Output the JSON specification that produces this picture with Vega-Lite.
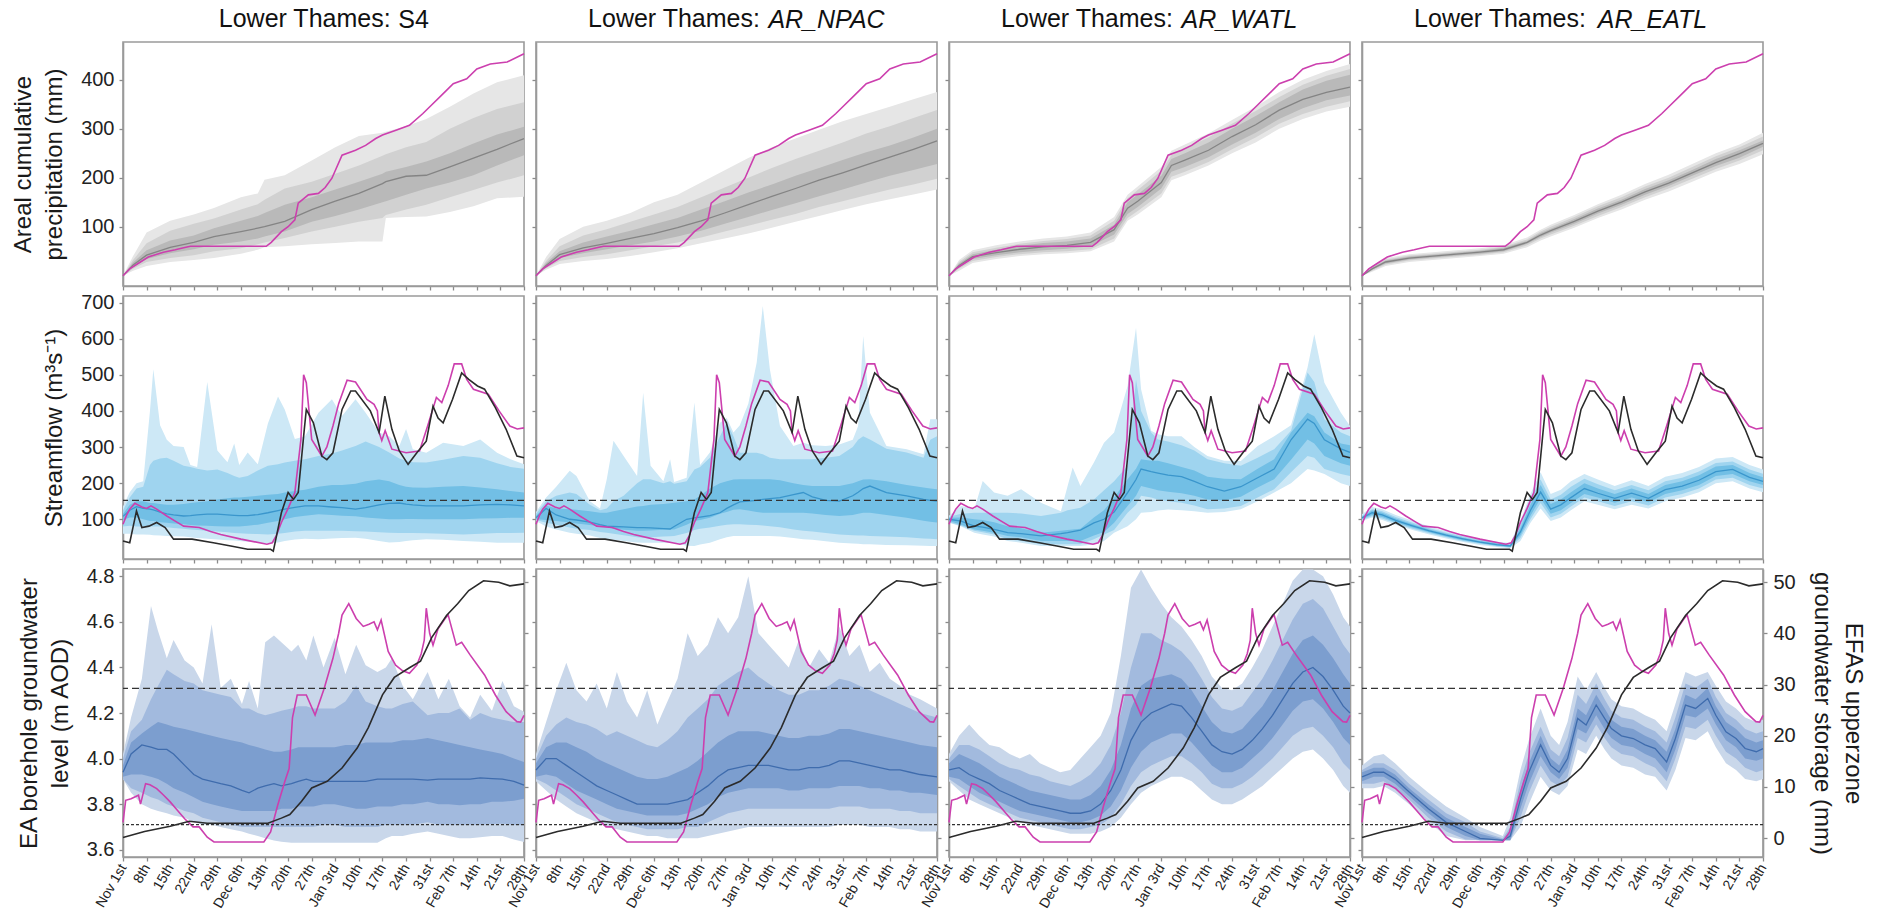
{
"$schema":"https://vega.github.io/schema/vega-lite/v6.json",
"background":"white",
"padding":{"left":10,"top":6,"right":5,"bottom":5},
"bounds":"flush",
"columns":4,
"spacing":{"row":10,"column":12},
"config":{
 "font":"Liberation Sans",
 "view":{"stroke":"#9a9a9a","strokeWidth":1.6},
 "axis":{"domainColor":"#9a9a9a","domainWidth":1.6,"tickColor":"#8a8a8a","tickWidth":1.3,"tickSize":4,"grid":false,"labelFont":"Liberation Sans","labelFontSize":20,"labelColor":"#222222","titleFont":"Liberation Sans","titleFontSize":24,"titleFontWeight":"normal","titleColor":"#1a1a1a","titleLineHeight":31,"labelOverlap":false},
 "title":{"font":"Liberation Sans","fontSize":25,"fontWeight":"normal","color":"#111111"}
},
"datasets":{
"po":[{"t":0,"v":0},{"t":2,"v":14},{"t":4.7,"v":26},{"t":7.5,"v":38},{"t":9.6,"v":43},{"t":12,"v":48},{"t":15.5,"v":53},{"t":18,"v":57},{"t":20,"v":60},{"t":30,"v":60},{"t":42.5,"v":60},{"t":44,"v":68},{"t":47,"v":90},{"t":49,"v":100},{"t":51,"v":114},{"t":52,"v":148},{"t":55,"v":165},{"t":58,"v":168},{"t":60,"v":180},{"t":62,"v":199},{"t":65,"v":246},{"t":69,"v":256},{"t":72,"v":266},{"t":75,"v":280},{"t":77,"v":287},{"t":81,"v":297},{"t":85,"v":307},{"t":89,"v":331},{"t":91.5,"v":348},{"t":94.5,"v":368},{"t":98,"v":392},{"t":102,"v":402},{"t":105,"v":422},{"t":109,"v":432},{"t":114,"v":436},{"t":119,"v":453}],
"pe":[
{"m":"S4","t":0,"a1":0,"a2":0,"a3":0,"md":0,"b3":0,"b2":0,"b1":0},
{"m":"S4","t":3,"a1":10,"a2":14,"a3":18,"md":22,"b3":27,"b2":32,"b1":40},
{"m":"S4","t":7,"a1":20,"a2":28,"a3":34,"md":42,"b3":52,"b2":66,"b1":88},
{"m":"S4","t":14,"a1":28,"a2":36,"a3":46,"md":58,"b3":72,"b2":92,"b1":112},
{"m":"S4","t":21,"a1":32,"a2":42,"a3":54,"md":68,"b3":82,"b2":106,"b1":125},
{"m":"S4","t":27,"a1":36,"a2":50,"a3":63,"md":80,"b3":97,"b2":117,"b1":138},
{"m":"S4","t":35,"a1":45,"a2":56,"a3":70,"md":90,"b3":112,"b2":135,"b1":160},
{"m":"S4","t":40,"a1":53,"a2":64,"a3":76,"md":97,"b3":122,"b2":146,"b1":168},
{"m":"S4","t":42,"a1":58,"a2":68,"a3":80,"md":100,"b3":128,"b2":155,"b1":196},
{"m":"S4","t":48,"a1":60,"a2":77,"a3":90,"md":111,"b3":145,"b2":178,"b1":205},
{"m":"S4","t":56,"a1":64,"a2":90,"a3":110,"md":135,"b3":160,"b2":192,"b1":235},
{"m":"S4","t":63,"a1":67,"a2":100,"a3":122,"md":152,"b3":176,"b2":208,"b1":262},
{"m":"S4","t":70,"a1":70,"a2":110,"a3":135,"md":168,"b3":192,"b2":225,"b1":285},
{"m":"S4","t":77,"a1":70,"a2":118,"a3":150,"md":188,"b3":208,"b2":245,"b1":292},
{"m":"S4","t":78,"a1":118,"a2":124,"a3":152,"md":192,"b3":212,"b2":248,"b1":294},
{"m":"S4","t":84,"a1":120,"a2":135,"a3":165,"md":203,"b3":222,"b2":262,"b1":305},
{"m":"S4","t":90,"a1":121,"a2":145,"a3":178,"md":205,"b3":233,"b2":273,"b1":320},
{"m":"S4","t":97,"a1":130,"a2":160,"a3":190,"md":222,"b3":250,"b2":300,"b1":345},
{"m":"S4","t":104,"a1":142,"a2":175,"a3":205,"md":240,"b3":270,"b2":322,"b1":372},
{"m":"S4","t":111,"a1":158,"a2":190,"a3":225,"md":258,"b3":288,"b2":340,"b1":395},
{"m":"S4","t":119,"a1":161,"a2":205,"a3":246,"md":280,"b3":304,"b2":354,"b1":409},
{"m":"AR_NPAC","t":0,"a1":0,"a2":0,"a3":0,"md":0,"b3":0,"b2":0,"b1":0},
{"m":"AR_NPAC","t":3,"a1":12,"a2":15,"a3":18,"md":21,"b3":26,"b2":30,"b1":38},
{"m":"AR_NPAC","t":7,"a1":24,"a2":30,"a3":36,"md":43,"b3":50,"b2":60,"b1":75},
{"m":"AR_NPAC","t":14,"a1":30,"a2":38,"a3":46,"md":57,"b3":68,"b2":82,"b1":100},
{"m":"AR_NPAC","t":21,"a1":34,"a2":44,"a3":54,"md":66,"b3":80,"b2":95,"b1":112},
{"m":"AR_NPAC","t":28,"a1":40,"a2":52,"a3":62,"md":76,"b3":92,"b2":110,"b1":128},
{"m":"AR_NPAC","t":35,"a1":48,"a2":60,"a3":70,"md":86,"b3":105,"b2":125,"b1":150},
{"m":"AR_NPAC","t":42,"a1":56,"a2":68,"a3":80,"md":98,"b3":118,"b2":140,"b1":165},
{"m":"AR_NPAC","t":49,"a1":66,"a2":78,"a3":92,"md":112,"b3":135,"b2":160,"b1":190},
{"m":"AR_NPAC","t":56,"a1":76,"a2":90,"a3":106,"md":128,"b3":152,"b2":180,"b1":215},
{"m":"AR_NPAC","t":63,"a1":86,"a2":102,"a3":120,"md":145,"b3":170,"b2":200,"b1":240},
{"m":"AR_NPAC","t":70,"a1":98,"a2":114,"a3":134,"md":162,"b3":186,"b2":220,"b1":262},
{"m":"AR_NPAC","t":77,"a1":110,"a2":126,"a3":148,"md":178,"b3":204,"b2":238,"b1":280},
{"m":"AR_NPAC","t":84,"a1":122,"a2":140,"a3":162,"md":195,"b3":220,"b2":255,"b1":298},
{"m":"AR_NPAC","t":91,"a1":134,"a2":152,"a3":176,"md":210,"b3":236,"b2":272,"b1":315},
{"m":"AR_NPAC","t":98,"a1":146,"a2":164,"a3":190,"md":226,"b3":252,"b2":290,"b1":330},
{"m":"AR_NPAC","t":105,"a1":156,"a2":176,"a3":204,"md":242,"b3":266,"b2":305,"b1":345},
{"m":"AR_NPAC","t":112,"a1":166,"a2":186,"a3":216,"md":258,"b3":282,"b2":322,"b1":360},
{"m":"AR_NPAC","t":119,"a1":176,"a2":198,"a3":228,"md":275,"b3":300,"b2":338,"b1":375},
{"m":"AR_WATL","t":0,"a1":0,"a2":0,"a3":0,"md":0,"b3":0,"b2":0,"b1":0},
{"m":"AR_WATL","t":3,"a1":10,"a2":14,"a3":17,"md":21,"b3":25,"b2":28,"b1":32},
{"m":"AR_WATL","t":7,"a1":26,"a2":30,"a3":34,"md":39,"b3":44,"b2":48,"b1":52},
{"m":"AR_WATL","t":14,"a1":34,"a2":38,"a3":42,"md":47,"b3":53,"b2":57,"b1":62},
{"m":"AR_WATL","t":21,"a1":40,"a2":44,"a3":48,"md":54,"b3":61,"b2":65,"b1":70},
{"m":"AR_WATL","t":28,"a1":44,"a2":48,"a3":52,"md":59,"b3":67,"b2":71,"b1":76},
{"m":"AR_WATL","t":35,"a1":46,"a2":50,"a3":55,"md":62,"b3":70,"b2":75,"b1":80},
{"m":"AR_WATL","t":42,"a1":50,"a2":54,"a3":60,"md":68,"b3":76,"b2":82,"b1":88},
{"m":"AR_WATL","t":49,"a1":70,"a2":76,"a3":84,"md":94,"b3":104,"b2":112,"b1":120},
{"m":"AR_WATL","t":53,"a1":112,"a2":118,"a3":126,"md":138,"b3":150,"b2":158,"b1":165},
{"m":"AR_WATL","t":56,"a1":125,"a2":132,"a3":140,"md":152,"b3":166,"b2":175,"b1":182},
{"m":"AR_WATL","t":63,"a1":160,"a2":168,"a3":178,"md":190,"b3":204,"b2":214,"b1":222},
{"m":"AR_WATL","t":66,"a1":195,"a2":202,"a3":212,"md":225,"b3":238,"b2":246,"b1":255},
{"m":"AR_WATL","t":70,"a1":205,"a2":212,"a3":222,"md":236,"b3":250,"b2":260,"b1":268},
{"m":"AR_WATL","t":77,"a1":225,"a2":232,"a3":242,"md":256,"b3":272,"b2":282,"b1":290},
{"m":"AR_WATL","t":84,"a1":250,"a2":258,"a3":268,"md":284,"b3":300,"b2":310,"b1":318},
{"m":"AR_WATL","t":91,"a1":272,"a2":282,"a3":292,"md":308,"b3":326,"b2":336,"b1":345},
{"m":"AR_WATL","t":98,"a1":300,"a2":310,"a3":320,"md":338,"b3":354,"b2":365,"b1":375},
{"m":"AR_WATL","t":105,"a1":320,"a2":330,"a3":342,"md":360,"b3":380,"b2":390,"b1":400},
{"m":"AR_WATL","t":112,"a1":335,"a2":345,"a3":358,"md":374,"b3":398,"b2":408,"b1":418},
{"m":"AR_WATL","t":119,"a1":345,"a2":356,"a3":368,"md":385,"b3":410,"b2":422,"b1":432},
{"m":"AR_EATL","t":0,"a1":0,"a2":0,"a3":0,"md":0,"b3":0,"b2":0,"b1":0},
{"m":"AR_EATL","t":3,"a1":8,"a2":10,"a3":12,"md":14,"b3":16,"b2":18,"b1":20},
{"m":"AR_EATL","t":7,"a1":20,"a2":23,"a3":25,"md":28,"b3":31,"b2":33,"b1":36},
{"m":"AR_EATL","t":14,"a1":28,"a2":31,"a3":33,"md":36,"b3":39,"b2":41,"b1":44},
{"m":"AR_EATL","t":21,"a1":32,"a2":35,"a3":37,"md":40,"b3":43,"b2":45,"b1":48},
{"m":"AR_EATL","t":28,"a1":36,"a2":39,"a3":41,"md":44,"b3":47,"b2":49,"b1":52},
{"m":"AR_EATL","t":35,"a1":40,"a2":43,"a3":45,"md":48,"b3":51,"b2":53,"b1":56},
{"m":"AR_EATL","t":42,"a1":45,"a2":48,"a3":50,"md":53,"b3":57,"b2":59,"b1":62},
{"m":"AR_EATL","t":49,"a1":58,"a2":62,"a3":65,"md":68,"b3":71,"b2":74,"b1":78},
{"m":"AR_EATL","t":53,"a1":72,"a2":76,"a3":79,"md":83,"b3":87,"b2":90,"b1":94},
{"m":"AR_EATL","t":56,"a1":80,"a2":84,"a3":88,"md":92,"b3":96,"b2":100,"b1":104},
{"m":"AR_EATL","t":63,"a1":98,"a2":102,"a3":106,"md":111,"b3":116,"b2":120,"b1":124},
{"m":"AR_EATL","t":70,"a1":118,"a2":122,"a3":127,"md":132,"b3":137,"b2":142,"b1":146},
{"m":"AR_EATL","t":77,"a1":135,"a2":140,"a3":145,"md":150,"b3":155,"b2":160,"b1":165},
{"m":"AR_EATL","t":84,"a1":155,"a2":160,"a3":165,"md":171,"b3":177,"b2":182,"b1":187},
{"m":"AR_EATL","t":91,"a1":172,"a2":178,"a3":183,"md":189,"b3":195,"b2":200,"b1":206},
{"m":"AR_EATL","t":98,"a1":192,"a2":198,"a3":204,"md":210,"b3":216,"b2":222,"b1":228},
{"m":"AR_EATL","t":105,"a1":212,"a2":218,"a3":224,"md":231,"b3":238,"b2":244,"b1":250},
{"m":"AR_EATL","t":112,"a1":228,"a2":235,"a3":241,"md":249,"b3":256,"b2":262,"b1":268},
{"m":"AR_EATL","t":119,"a1":248,"a2":256,"a3":263,"md":270,"b3":276,"b2":284,"b1":292}
],
"qm":[{"t":0,"v":86},{"t":1,"v":110},{"t":2,"v":128},{"t":3.5,"v":144},{"t":5.6,"v":134},{"t":7,"v":130},{"t":8.3,"v":137},{"t":10,"v":128},{"t":13,"v":109},{"t":15.5,"v":95},{"t":18,"v":81},{"t":22.6,"v":77},{"t":26,"v":66},{"t":29,"v":58},{"t":35,"v":45},{"t":42.7,"v":31},{"t":44.3,"v":35},{"t":45.5,"v":55},{"t":47,"v":91},{"t":49,"v":130},{"t":51,"v":174},{"t":52.8,"v":321},{"t":53.6,"v":500},{"t":54.4,"v":478},{"t":55.2,"v":400},{"t":56,"v":321},{"t":59,"v":275},{"t":60.5,"v":300},{"t":62.3,"v":358},{"t":64,"v":420},{"t":66.5,"v":485},{"t":69,"v":480},{"t":72.4,"v":432},{"t":74.5,"v":418},{"t":75.5,"v":400},{"t":76,"v":340},{"t":76.8,"v":318},{"t":77.8,"v":345},{"t":79.8,"v":294},{"t":84,"v":284},{"t":88,"v":289},{"t":90.4,"v":358},{"t":93,"v":437},{"t":94.6,"v":423},{"t":96.5,"v":470},{"t":98.3,"v":530},{"t":100.5,"v":530},{"t":102,"v":487},{"t":104,"v":460},{"t":108.4,"v":446},{"t":111.6,"v":400},{"t":114.8,"v":358},{"t":117,"v":350},{"t":119,"v":353}],
"qk":[{"t":0,"v":40},{"t":2,"v":35},{"t":4,"v":123},{"t":5.6,"v":77},{"t":7.7,"v":81},{"t":10,"v":91},{"t":12.5,"v":77},{"t":15,"v":45},{"t":20.5,"v":45},{"t":26.8,"v":35},{"t":32,"v":26},{"t":37,"v":17},{"t":43.8,"v":17},{"t":44.6,"v":12},{"t":47,"v":118},{"t":49,"v":174},{"t":50.6,"v":155},{"t":52,"v":174},{"t":53.8,"v":349},{"t":54.4,"v":404},{"t":56.5,"v":367},{"t":59,"v":275},{"t":60.5,"v":265},{"t":62.3,"v":284},{"t":65,"v":404},{"t":67.6,"v":455},{"t":69,"v":455},{"t":73.4,"v":400},{"t":76,"v":340},{"t":77.7,"v":441},{"t":79.8,"v":349},{"t":82,"v":289},{"t":84.6,"v":252},{"t":87.2,"v":284},{"t":90,"v":316},{"t":92,"v":413},{"t":93.5,"v":380},{"t":95,"v":367},{"t":97.8,"v":432},{"t":100.5,"v":505},{"t":102.6,"v":487},{"t":105.2,"v":469},{"t":107.3,"v":460},{"t":110.5,"v":409},{"t":113.7,"v":349},{"t":116.9,"v":275},{"t":119,"v":270}],
"qe":[
{"m":"S4","t":0,"a1":60,"a2":80,"a3":98,"md":108,"b3":115,"b2":125,"b1":135},
{"m":"S4","t":2,"a1":60,"a2":82,"a3":105,"md":125,"b3":140,"b2":160,"b1":175},
{"m":"S4","t":4,"a1":58,"a2":80,"a3":105,"md":135,"b3":150,"b2":185,"b1":200},
{"m":"S4","t":6,"a1":58,"a2":80,"a3":100,"md":130,"b3":150,"b2":190,"b1":205},
{"m":"S4","t":8,"a1":57,"a2":80,"a3":95,"md":128,"b3":145,"b2":250,"b1":400},
{"m":"S4","t":9,"a1":56,"a2":80,"a3":95,"md":126,"b3":145,"b2":262,"b1":515},
{"m":"S4","t":11,"a1":55,"a2":80,"a3":92,"md":120,"b3":142,"b2":268,"b1":360},
{"m":"S4","t":13,"a1":54,"a2":78,"a3":90,"md":115,"b3":140,"b2":270,"b1":320},
{"m":"S4","t":15,"a1":53,"a2":76,"a3":88,"md":112,"b3":140,"b2":262,"b1":303},
{"m":"S4","t":18,"a1":52,"a2":74,"a3":86,"md":109,"b3":142,"b2":248,"b1":300},
{"m":"S4","t":20,"a1":50,"a2":72,"a3":84,"md":110,"b3":145,"b2":245,"b1":250},
{"m":"S4","t":22,"a1":48,"a2":70,"a3":83,"md":112,"b3":147,"b2":240,"b1":245},
{"m":"S4","t":25,"a1":46,"a2":68,"a3":82,"md":114,"b3":150,"b2":235,"b1":480},
{"m":"S4","t":28,"a1":44,"a2":66,"a3":81,"md":114,"b3":155,"b2":238,"b1":290},
{"m":"S4","t":31,"a1":42,"a2":64,"a3":80,"md":112,"b3":158,"b2":228,"b1":258},
{"m":"S4","t":33,"a1":41,"a2":62,"a3":80,"md":111,"b3":160,"b2":220,"b1":310},
{"m":"S4","t":34.5,"a1":40,"a2":61,"a3":80,"md":110,"b3":160,"b2":215,"b1":250},
{"m":"S4","t":37,"a1":38,"a2":60,"a3":82,"md":110,"b3":162,"b2":220,"b1":285},
{"m":"S4","t":40,"a1":36,"a2":59,"a3":85,"md":113,"b3":165,"b2":235,"b1":252},
{"m":"S4","t":43,"a1":33,"a2":58,"a3":90,"md":118,"b3":168,"b2":248,"b1":365},
{"m":"S4","t":46,"a1":36,"a2":60,"a3":95,"md":124,"b3":170,"b2":252,"b1":440},
{"m":"S4","t":48,"a1":40,"a2":62,"a3":100,"md":128,"b3":174,"b2":257,"b1":404},
{"m":"S4","t":51,"a1":44,"a2":66,"a3":106,"md":133,"b3":178,"b2":262,"b1":322},
{"m":"S4","t":54,"a1":46,"a2":68,"a3":110,"md":137,"b3":182,"b2":266,"b1":330},
{"m":"S4","t":58,"a1":45,"a2":68,"a3":114,"md":137,"b3":190,"b2":275,"b1":395},
{"m":"S4","t":62,"a1":47,"a2":68,"a3":112,"md":134,"b3":195,"b2":282,"b1":432},
{"m":"S4","t":65,"a1":48,"a2":68,"a3":110,"md":132,"b3":195,"b2":290,"b1":386},
{"m":"S4","t":69,"a1":49,"a2":67,"a3":108,"md":128,"b3":198,"b2":303,"b1":432},
{"m":"S4","t":72,"a1":46,"a2":66,"a3":105,"md":132,"b3":205,"b2":315,"b1":395},
{"m":"S4","t":76,"a1":40,"a2":64,"a3":102,"md":140,"b3":210,"b2":300,"b1":340},
{"m":"S4","t":79,"a1":36,"a2":63,"a3":100,"md":144,"b3":205,"b2":285,"b1":330},
{"m":"S4","t":82,"a1":37,"a2":62,"a3":100,"md":145,"b3":195,"b2":268,"b1":303},
{"m":"S4","t":84,"a1":40,"a2":62,"a3":101,"md":142,"b3":190,"b2":262,"b1":350},
{"m":"S4","t":86,"a1":42,"a2":62,"a3":101,"md":140,"b3":188,"b2":258,"b1":294},
{"m":"S4","t":90,"a1":45,"a2":61,"a3":100,"md":137,"b3":187,"b2":257,"b1":284},
{"m":"S4","t":95,"a1":43,"a2":60,"a3":100,"md":137,"b3":190,"b2":265,"b1":312},
{"m":"S4","t":101,"a1":40,"a2":58,"a3":100,"md":137,"b3":192,"b2":275,"b1":303},
{"m":"S4","t":106,"a1":38,"a2":60,"a3":102,"md":140,"b3":188,"b2":270,"b1":321},
{"m":"S4","t":111,"a1":35,"a2":62,"a3":103,"md":141,"b3":183,"b2":255,"b1":284},
{"m":"S4","t":115,"a1":35,"a2":62,"a3":104,"md":140,"b3":178,"b2":245,"b1":266},
{"m":"S4","t":119,"a1":35,"a2":63,"a3":104,"md":137,"b3":174,"b2":240,"b1":252},
{"m":"AR_NPAC","t":0,"a1":95,"a2":98,"a3":100,"md":104,"b3":110,"b2":115,"b1":120},
{"m":"AR_NPAC","t":3,"a1":80,"a2":90,"a3":98,"md":130,"b3":138,"b2":150,"b1":160},
{"m":"AR_NPAC","t":6,"a1":72,"a2":85,"a3":95,"md":112,"b3":130,"b2":165,"b1":190},
{"m":"AR_NPAC","t":10,"a1":63,"a2":77,"a3":91,"md":100,"b3":128,"b2":174,"b1":234},
{"m":"AR_NPAC","t":12,"a1":60,"a2":74,"a3":88,"md":98,"b3":126,"b2":170,"b1":220},
{"m":"AR_NPAC","t":16,"a1":55,"a2":70,"a3":84,"md":92,"b3":122,"b2":140,"b1":150},
{"m":"AR_NPAC","t":19,"a1":48,"a2":65,"a3":80,"md":85,"b3":118,"b2":125,"b1":130},
{"m":"AR_NPAC","t":21,"a1":45,"a2":63,"a3":77,"md":81,"b3":118,"b2":130,"b1":211},
{"m":"AR_NPAC","t":23,"a1":43,"a2":60,"a3":74,"md":80,"b3":122,"b2":150,"b1":317},
{"m":"AR_NPAC","t":26,"a1":40,"a2":56,"a3":71,"md":79,"b3":128,"b2":165,"b1":275},
{"m":"AR_NPAC","t":30,"a1":36,"a2":50,"a3":68,"md":77,"b3":135,"b2":200,"b1":220},
{"m":"AR_NPAC","t":31.8,"a1":35,"a2":49,"a3":68,"md":77,"b3":137,"b2":211,"b1":450},
{"m":"AR_NPAC","t":34,"a1":35,"a2":50,"a3":69,"md":76,"b3":140,"b2":211,"b1":248},
{"m":"AR_NPAC","t":37.8,"a1":35,"a2":52,"a3":71,"md":74,"b3":142,"b2":200,"b1":205},
{"m":"AR_NPAC","t":39.8,"a1":35,"a2":53,"a3":72,"md":73,"b3":144,"b2":205,"b1":266},
{"m":"AR_NPAC","t":41,"a1":35,"a2":54,"a3":72,"md":80,"b3":146,"b2":198,"b1":203},
{"m":"AR_NPAC","t":44.7,"a1":27,"a2":62,"a3":85,"md":100,"b3":150,"b2":205,"b1":215},
{"m":"AR_NPAC","t":47,"a1":26,"a2":70,"a3":95,"md":104,"b3":155,"b2":238,"b1":423},
{"m":"AR_NPAC","t":48.7,"a1":30,"a2":74,"a3":98,"md":106,"b3":165,"b2":245,"b1":250},
{"m":"AR_NPAC","t":51.6,"a1":35,"a2":77,"a3":104,"md":110,"b3":185,"b2":270,"b1":285},
{"m":"AR_NPAC","t":54.6,"a1":45,"a2":82,"a3":115,"md":118,"b3":200,"b2":330,"b1":367},
{"m":"AR_NPAC","t":56.6,"a1":50,"a2":85,"a3":120,"md":130,"b3":205,"b2":367,"b1":380},
{"m":"AR_NPAC","t":58.6,"a1":54,"a2":86,"a3":126,"md":140,"b3":210,"b2":330,"b1":340},
{"m":"AR_NPAC","t":60.5,"a1":54,"a2":86,"a3":128,"md":148,"b3":211,"b2":284,"b1":360},
{"m":"AR_NPAC","t":63,"a1":54,"a2":85,"a3":124,"md":150,"b3":211,"b2":284,"b1":420},
{"m":"AR_NPAC","t":65.5,"a1":54,"a2":84,"a3":120,"md":152,"b3":211,"b2":284,"b1":534},
{"m":"AR_NPAC","t":67.3,"a1":54,"a2":83,"a3":118,"md":155,"b3":211,"b2":280,"b1":690},
{"m":"AR_NPAC","t":69.4,"a1":54,"a2":81,"a3":118,"md":157,"b3":211,"b2":270,"b1":515},
{"m":"AR_NPAC","t":72.4,"a1":52,"a2":78,"a3":118,"md":160,"b3":208,"b2":266,"b1":358},
{"m":"AR_NPAC","t":76.4,"a1":48,"a2":72,"a3":118,"md":168,"b3":200,"b2":266,"b1":303},
{"m":"AR_NPAC","t":79.3,"a1":45,"a2":68,"a3":118,"md":174,"b3":195,"b2":266,"b1":312},
{"m":"AR_NPAC","t":82,"a1":43,"a2":66,"a3":116,"md":162,"b3":192,"b2":266,"b1":305},
{"m":"AR_NPAC","t":86,"a1":39,"a2":62,"a3":112,"md":152,"b3":192,"b2":270,"b1":303},
{"m":"AR_NPAC","t":90,"a1":35,"a2":58,"a3":109,"md":150,"b3":192,"b2":275,"b1":307},
{"m":"AR_NPAC","t":94,"a1":33,"a2":56,"a3":112,"md":165,"b3":200,"b2":300,"b1":320},
{"m":"AR_NPAC","t":95.6,"a1":32,"a2":55,"a3":115,"md":175,"b3":205,"b2":320,"b1":358},
{"m":"AR_NPAC","t":97.1,"a1":31,"a2":55,"a3":118,"md":185,"b3":210,"b2":330,"b1":607},
{"m":"AR_NPAC","t":99.1,"a1":31,"a2":54,"a3":118,"md":192,"b3":211,"b2":321,"b1":395},
{"m":"AR_NPAC","t":104,"a1":29,"a2":52,"a3":112,"md":174,"b3":205,"b2":295,"b1":303},
{"m":"AR_NPAC","t":110,"a1":28,"a2":50,"a3":104,"md":165,"b3":195,"b2":285,"b1":294},
{"m":"AR_NPAC","t":115,"a1":27,"a2":47,"a3":96,"md":155,"b3":188,"b2":270,"b1":280},
{"m":"AR_NPAC","t":117,"a1":26,"a2":46,"a3":93,"md":152,"b3":185,"b2":320,"b1":377},
{"m":"AR_NPAC","t":119,"a1":26,"a2":45,"a3":91,"md":150,"b3":183,"b2":330,"b1":377},
{"m":"AR_WATL","t":0,"a1":90,"a2":92,"a3":95,"md":100,"b3":104,"b2":107,"b1":110},
{"m":"AR_WATL","t":3.6,"a1":80,"a2":82,"a3":85,"md":95,"b3":105,"b2":115,"b1":137},
{"m":"AR_WATL","t":7.5,"a1":63,"a2":68,"a3":72,"md":81,"b3":100,"b2":118,"b1":128},
{"m":"AR_WATL","t":10,"a1":58,"a2":64,"a3":68,"md":78,"b3":98,"b2":118,"b1":206},
{"m":"AR_WATL","t":13.4,"a1":52,"a2":58,"a3":63,"md":72,"b3":92,"b2":118,"b1":174},
{"m":"AR_WATL","t":17.4,"a1":40,"a2":45,"a3":54,"md":63,"b3":81,"b2":118,"b1":165},
{"m":"AR_WATL","t":21.4,"a1":35,"a2":40,"a3":50,"md":60,"b3":75,"b2":116,"b1":183},
{"m":"AR_WATL","t":27.3,"a1":26,"a2":31,"a3":40,"md":54,"b3":63,"b2":109,"b1":146},
{"m":"AR_WATL","t":33.2,"a1":26,"a2":31,"a3":40,"md":60,"b3":68,"b2":118,"b1":122},
{"m":"AR_WATL","t":35.2,"a1":26,"a2":31,"a3":40,"md":63,"b3":70,"b2":125,"b1":192},
{"m":"AR_WATL","t":36.7,"a1":26,"a2":31,"a3":40,"md":66,"b3":72,"b2":128,"b1":243},
{"m":"AR_WATL","t":39,"a1":26,"a2":31,"a3":40,"md":70,"b3":74,"b2":132,"b1":192},
{"m":"AR_WATL","t":43,"a1":30,"a2":45,"a3":55,"md":90,"b3":105,"b2":155,"b1":257},
{"m":"AR_WATL","t":46,"a1":40,"a2":58,"a3":65,"md":100,"b3":125,"b2":180,"b1":312},
{"m":"AR_WATL","t":49,"a1":63,"a2":70,"a3":90,"md":120,"b3":160,"b2":205,"b1":340},
{"m":"AR_WATL","t":53,"a1":81,"a2":118,"a3":137,"md":174,"b3":211,"b2":248,"b1":469},
{"m":"AR_WATL","t":55.5,"a1":100,"a2":140,"a3":165,"md":210,"b3":240,"b2":487,"b1":630},
{"m":"AR_WATL","t":57,"a1":118,"a2":165,"a3":192,"md":239,"b3":266,"b2":400,"b1":460},
{"m":"AR_WATL","t":60,"a1":120,"a2":160,"a3":185,"md":232,"b3":262,"b2":340,"b1":345},
{"m":"AR_WATL","t":62,"a1":124,"a2":155,"a3":180,"md":228,"b3":262,"b2":321,"b1":335},
{"m":"AR_WATL","t":65,"a1":127,"a2":150,"a3":176,"md":222,"b3":255,"b2":315,"b1":330},
{"m":"AR_WATL","t":69,"a1":125,"a2":146,"a3":172,"md":218,"b3":245,"b2":305,"b1":330},
{"m":"AR_WATL","t":72.8,"a1":122,"a2":138,"a3":165,"md":205,"b3":235,"b2":290,"b1":300},
{"m":"AR_WATL","t":76.7,"a1":118,"a2":128,"a3":155,"md":190,"b3":218,"b2":266,"b1":275},
{"m":"AR_WATL","t":81.7,"a1":120,"a2":130,"a3":152,"md":178,"b3":212,"b2":255,"b1":262},
{"m":"AR_WATL","t":86.6,"a1":128,"a2":137,"a3":162,"md":190,"b3":211,"b2":248,"b1":261},
{"m":"AR_WATL","t":91.6,"a1":150,"a2":160,"a3":188,"md":215,"b3":240,"b2":270,"b1":303},
{"m":"AR_WATL","t":96.5,"a1":174,"a2":183,"a3":211,"md":239,"b3":266,"b2":294,"b1":330},
{"m":"AR_WATL","t":101.5,"a1":200,"a2":230,"a3":265,"md":320,"b3":340,"b2":345,"b1":360},
{"m":"AR_WATL","t":106.4,"a1":239,"a2":275,"a3":321,"md":377,"b3":395,"b2":506,"b1":520},
{"m":"AR_WATL","t":108.4,"a1":235,"a2":270,"a3":310,"md":365,"b3":385,"b2":480,"b1":612},
{"m":"AR_WATL","t":111.4,"a1":225,"a2":239,"a3":275,"md":320,"b3":340,"b2":377,"b1":478},
{"m":"AR_WATL","t":116.3,"a1":200,"a2":225,"a3":255,"md":295,"b3":310,"b2":340,"b1":395},
{"m":"AR_WATL","t":119,"a1":192,"a2":220,"a3":248,"md":285,"b3":305,"b2":330,"b1":358},
{"m":"AR_EATL","t":0,"a1":95,"a2":98,"a3":101,"md":104,"b3":107,"b2":110,"b1":114},
{"m":"AR_EATL","t":3,"a1":105,"a2":108,"a3":112,"md":118,"b3":124,"b2":128,"b1":134},
{"m":"AR_EATL","t":6,"a1":98,"a2":102,"a3":106,"md":112,"b3":118,"b2":122,"b1":128},
{"m":"AR_EATL","t":10,"a1":85,"a2":89,"a3":92,"md":97,"b3":102,"b2":106,"b1":112},
{"m":"AR_EATL","t":15,"a1":70,"a2":74,"a3":77,"md":82,"b3":86,"b2":90,"b1":96},
{"m":"AR_EATL","t":20,"a1":58,"a2":61,"a3":64,"md":68,"b3":72,"b2":75,"b1":80},
{"m":"AR_EATL","t":25,"a1":47,"a2":50,"a3":52,"md":56,"b3":60,"b2":63,"b1":67},
{"m":"AR_EATL","t":30,"a1":37,"a2":40,"a3":42,"md":46,"b3":49,"b2":52,"b1":56},
{"m":"AR_EATL","t":35,"a1":29,"a2":32,"a3":34,"md":37,"b3":40,"b2":43,"b1":46},
{"m":"AR_EATL","t":40,"a1":23,"a2":25,"a3":27,"md":30,"b3":33,"b2":35,"b1":38},
{"m":"AR_EATL","t":44,"a1":20,"a2":22,"a3":24,"md":26,"b3":29,"b2":31,"b1":34},
{"m":"AR_EATL","t":47,"a1":40,"a2":48,"a3":55,"md":65,"b3":75,"b2":85,"b1":95},
{"m":"AR_EATL","t":50,"a1":90,"a2":100,"a3":110,"md":125,"b3":140,"b2":155,"b1":170},
{"m":"AR_EATL","t":53,"a1":130,"a2":145,"a3":158,"md":175,"b3":195,"b2":210,"b1":230},
{"m":"AR_EATL","t":56,"a1":95,"a2":105,"a3":115,"md":128,"b3":142,"b2":155,"b1":170},
{"m":"AR_EATL","t":59,"a1":105,"a2":115,"a3":125,"md":140,"b3":155,"b2":168,"b1":182},
{"m":"AR_EATL","t":62,"a1":125,"a2":135,"a3":145,"md":160,"b3":175,"b2":190,"b1":205},
{"m":"AR_EATL","t":66,"a1":150,"a2":160,"a3":170,"md":185,"b3":200,"b2":212,"b1":225},
{"m":"AR_EATL","t":70,"a1":140,"a2":150,"a3":160,"md":172,"b3":185,"b2":197,"b1":210},
{"m":"AR_EATL","t":75,"a1":128,"a2":137,"a3":146,"md":158,"b3":170,"b2":180,"b1":192},
{"m":"AR_EATL","t":80,"a1":140,"a2":150,"a3":160,"md":172,"b3":185,"b2":195,"b1":208},
{"m":"AR_EATL","t":85,"a1":130,"a2":138,"a3":147,"md":158,"b3":170,"b2":180,"b1":192},
{"m":"AR_EATL","t":90,"a1":150,"a2":160,"a3":170,"md":182,"b3":195,"b2":205,"b1":218},
{"m":"AR_EATL","t":95,"a1":160,"a2":170,"a3":180,"md":192,"b3":205,"b2":215,"b1":228},
{"m":"AR_EATL","t":100,"a1":175,"a2":185,"a3":195,"md":208,"b3":222,"b2":232,"b1":245},
{"m":"AR_EATL","t":105,"a1":200,"a2":210,"a3":220,"md":232,"b3":246,"b2":256,"b1":268},
{"m":"AR_EATL","t":110,"a1":205,"a2":215,"a3":225,"md":238,"b3":250,"b2":260,"b1":272},
{"m":"AR_EATL","t":115,"a1":185,"a2":195,"a3":205,"md":216,"b3":228,"b2":238,"b1":250},
{"m":"AR_EATL","t":119,"a1":175,"a2":185,"a3":195,"md":205,"b3":216,"b2":226,"b1":238}
],
"gm":[{"t":0,"v":3.72},{"t":0.8,"v":3.817},{"t":2.4,"v":3.824},{"t":4.6,"v":3.839},{"t":5.2,"v":3.8},{"t":6.7,"v":3.89},{"t":8,"v":3.885},{"t":10,"v":3.868},{"t":12,"v":3.84},{"t":14,"v":3.81},{"t":16,"v":3.775},{"t":18.3,"v":3.736},{"t":20.8,"v":3.7},{"t":22.6,"v":3.7},{"t":25,"v":3.655},{"t":27,"v":3.634},{"t":41.8,"v":3.634},{"t":43.8,"v":3.678},{"t":45.9,"v":3.795},{"t":48,"v":3.898},{"t":49.3,"v":3.956},{"t":50.3,"v":4.18},{"t":51.7,"v":4.279},{"t":54.4,"v":4.279},{"t":57,"v":4.191},{"t":59.7,"v":4.308},{"t":62.3,"v":4.44},{"t":64,"v":4.55},{"t":65,"v":4.63},{"t":67,"v":4.68},{"t":69.2,"v":4.615},{"t":71.3,"v":4.58},{"t":73,"v":4.59},{"t":74.5,"v":4.6},{"t":75.5,"v":4.565},{"t":76.6,"v":4.608},{"t":78.7,"v":4.47},{"t":80.9,"v":4.41},{"t":83,"v":4.385},{"t":85,"v":4.374},{"t":87.2,"v":4.41},{"t":88.5,"v":4.46},{"t":89.4,"v":4.52},{"t":90,"v":4.66},{"t":91,"v":4.55},{"t":92,"v":4.498},{"t":93.5,"v":4.57},{"t":95.6,"v":4.615},{"t":96.5,"v":4.63},{"t":98.9,"v":4.498},{"t":100.5,"v":4.51},{"t":103,"v":4.455},{"t":107.3,"v":4.367},{"t":110.5,"v":4.279},{"t":113.7,"v":4.206},{"t":116.9,"v":4.162},{"t":118,"v":4.16},{"t":119,"v":4.19}],
"gk":[{"t":0,"v":0.1},{"t":6.4,"v":1.3},{"t":14,"v":2.3},{"t":19.7,"v":3.3},{"t":25,"v":2.9},{"t":30.7,"v":2.9},{"t":36,"v":2.9},{"t":43,"v":2.9},{"t":47,"v":3.9},{"t":49.5,"v":4.6},{"t":53,"v":7.2},{"t":56,"v":9.8},{"t":60.6,"v":11.1},{"t":65,"v":13.7},{"t":69.5,"v":17.6},{"t":72.8,"v":21.6},{"t":77,"v":28},{"t":80.5,"v":31.4},{"t":85,"v":33.3},{"t":88.3,"v":34.6},{"t":91.6,"v":39.2},{"t":96,"v":43.5},{"t":99.3,"v":45.8},{"t":102.6,"v":48.4},{"t":107,"v":50.3},{"t":111.5,"v":50},{"t":114.8,"v":49.3},{"t":119,"v":49.7}],
"ge":[
{"m":"S4","t":0,"a1":3.91,"a2":3.91,"a3":3.92,"md":3.94,"b3":3.97,"b2":4.0,"b1":4.02},
{"m":"S4","t":2.4,"a1":3.85,"a2":3.87,"a3":3.93,"md":4.02,"b3":4.07,"b2":4.12,"b1":4.18},
{"m":"S4","t":5.6,"a1":3.8,"a2":3.85,"a3":3.93,"md":4.06,"b3":4.11,"b2":4.17,"b1":4.35},
{"m":"S4","t":8.3,"a1":3.78,"a2":3.83,"a3":3.92,"md":4.05,"b3":4.14,"b2":4.26,"b1":4.67},
{"m":"S4","t":10.4,"a1":3.77,"a2":3.82,"a3":3.91,"md":4.04,"b3":4.16,"b2":4.32,"b1":4.56},
{"m":"S4","t":13,"a1":3.76,"a2":3.8,"a3":3.89,"md":4.04,"b3":4.15,"b2":4.39,"b1":4.44},
{"m":"S4","t":15,"a1":3.75,"a2":3.79,"a3":3.87,"md":4.02,"b3":4.14,"b2":4.37,"b1":4.52},
{"m":"S4","t":18.3,"a1":3.74,"a2":3.77,"a3":3.85,"md":3.97,"b3":4.13,"b2":4.34,"b1":4.43},
{"m":"S4","t":21,"a1":3.72,"a2":3.76,"a3":3.83,"md":3.93,"b3":4.12,"b2":4.33,"b1":4.4},
{"m":"S4","t":23.6,"a1":3.71,"a2":3.74,"a3":3.81,"md":3.91,"b3":4.11,"b2":4.3,"b1":4.33},
{"m":"S4","t":26.3,"a1":3.71,"a2":3.73,"a3":3.8,"md":3.9,"b3":4.1,"b2":4.29,"b1":4.59},
{"m":"S4","t":29,"a1":3.7,"a2":3.72,"a3":3.79,"md":3.89,"b3":4.09,"b2":4.28,"b1":4.31},
{"m":"S4","t":32,"a1":3.69,"a2":3.71,"a3":3.78,"md":3.88,"b3":4.08,"b2":4.27,"b1":4.35},
{"m":"S4","t":35.3,"a1":3.68,"a2":3.7,"a3":3.77,"md":3.86,"b3":4.07,"b2":4.22,"b1":4.24},
{"m":"S4","t":37.4,"a1":3.67,"a2":3.7,"a3":3.77,"md":3.85,"b3":4.06,"b2":4.22,"b1":4.34},
{"m":"S4","t":40,"a1":3.66,"a2":3.7,"a3":3.77,"md":3.87,"b3":4.05,"b2":4.2,"b1":4.22},
{"m":"S4","t":42.2,"a1":3.65,"a2":3.7,"a3":3.77,"md":3.88,"b3":4.04,"b2":4.19,"b1":4.51},
{"m":"S4","t":44.8,"a1":3.64,"a2":3.7,"a3":3.77,"md":3.89,"b3":4.03,"b2":4.2,"b1":4.54},
{"m":"S4","t":47,"a1":3.635,"a2":3.7,"a3":3.78,"md":3.88,"b3":4.03,"b2":4.21,"b1":4.51},
{"m":"S4","t":50,"a1":3.63,"a2":3.7,"a3":3.78,"md":3.89,"b3":4.04,"b2":4.22,"b1":4.47},
{"m":"S4","t":52,"a1":3.63,"a2":3.7,"a3":3.79,"md":3.9,"b3":4.05,"b2":4.23,"b1":4.5},
{"m":"S4","t":54.4,"a1":3.63,"a2":3.7,"a3":3.79,"md":3.91,"b3":4.05,"b2":4.23,"b1":4.43},
{"m":"S4","t":56.5,"a1":3.63,"a2":3.7,"a3":3.79,"md":3.9,"b3":4.05,"b2":4.22,"b1":4.54},
{"m":"S4","t":59.5,"a1":3.63,"a2":3.71,"a3":3.8,"md":3.9,"b3":4.05,"b2":4.22,"b1":4.4},
{"m":"S4","t":62.8,"a1":3.63,"a2":3.71,"a3":3.8,"md":3.9,"b3":4.05,"b2":4.22,"b1":4.53},
{"m":"S4","t":66,"a1":3.63,"a2":3.7,"a3":3.79,"md":3.9,"b3":4.06,"b2":4.25,"b1":4.37},
{"m":"S4","t":69.2,"a1":3.63,"a2":3.7,"a3":3.78,"md":3.9,"b3":4.06,"b2":4.32,"b1":4.5},
{"m":"S4","t":72,"a1":3.63,"a2":3.7,"a3":3.78,"md":3.9,"b3":4.07,"b2":4.25,"b1":4.41},
{"m":"S4","t":75.5,"a1":3.63,"a2":3.7,"a3":3.79,"md":3.91,"b3":4.07,"b2":4.23,"b1":4.38},
{"m":"S4","t":78,"a1":3.65,"a2":3.71,"a3":3.79,"md":3.91,"b3":4.07,"b2":4.22,"b1":4.4},
{"m":"S4","t":79.8,"a1":3.66,"a2":3.71,"a3":3.79,"md":3.91,"b3":4.07,"b2":4.22,"b1":4.44},
{"m":"S4","t":83,"a1":3.66,"a2":3.71,"a3":3.8,"md":3.91,"b3":4.08,"b2":4.24,"b1":4.32},
{"m":"S4","t":86,"a1":3.67,"a2":3.71,"a3":3.8,"md":3.91,"b3":4.08,"b2":4.25,"b1":4.26},
{"m":"S4","t":90.4,"a1":3.68,"a2":3.72,"a3":3.81,"md":3.905,"b3":4.09,"b2":4.19,"b1":4.38},
{"m":"S4","t":93.6,"a1":3.67,"a2":3.71,"a3":3.8,"md":3.91,"b3":4.08,"b2":4.2,"b1":4.26},
{"m":"S4","t":96.7,"a1":3.66,"a2":3.71,"a3":3.8,"md":3.91,"b3":4.07,"b2":4.2,"b1":4.35},
{"m":"S4","t":99.9,"a1":3.65,"a2":3.71,"a3":3.795,"md":3.91,"b3":4.06,"b2":4.22,"b1":4.23},
{"m":"S4","t":103,"a1":3.65,"a2":3.71,"a3":3.8,"md":3.91,"b3":4.05,"b2":4.17,"b1":4.18},
{"m":"S4","t":106,"a1":3.655,"a2":3.71,"a3":3.8,"md":3.915,"b3":4.04,"b2":4.2,"b1":4.28},
{"m":"S4","t":109.5,"a1":3.66,"a2":3.713,"a3":3.81,"md":3.912,"b3":4.03,"b2":4.18,"b1":4.21},
{"m":"S4","t":112.6,"a1":3.66,"a2":3.714,"a3":3.81,"md":3.91,"b3":4.02,"b2":4.17,"b1":4.34},
{"m":"S4","t":116,"a1":3.645,"a2":3.71,"a3":3.815,"md":3.9,"b3":4.0,"b2":4.16,"b1":4.23},
{"m":"S4","t":119,"a1":3.634,"a2":3.707,"a3":3.824,"md":3.883,"b3":3.985,"b2":4.16,"b1":4.205},
{"m":"AR_NPAC","t":0,"a1":3.9,"a2":3.91,"a3":3.92,"md":3.95,"b3":3.98,"b2":4.0,"b1":4.02},
{"m":"AR_NPAC","t":3,"a1":3.86,"a2":3.89,"a3":3.93,"md":4.0,"b3":4.05,"b2":4.1,"b1":4.16},
{"m":"AR_NPAC","t":6,"a1":3.82,"a2":3.86,"a3":3.92,"md":4.0,"b3":4.07,"b2":4.15,"b1":4.3},
{"m":"AR_NPAC","t":9,"a1":3.79,"a2":3.83,"a3":3.89,"md":3.97,"b3":4.07,"b2":4.18,"b1":4.42},
{"m":"AR_NPAC","t":12,"a1":3.76,"a2":3.8,"a3":3.86,"md":3.94,"b3":4.05,"b2":4.16,"b1":4.3},
{"m":"AR_NPAC","t":15,"a1":3.74,"a2":3.78,"a3":3.84,"md":3.91,"b3":4.03,"b2":4.15,"b1":4.25},
{"m":"AR_NPAC","t":18,"a1":3.72,"a2":3.76,"a3":3.82,"md":3.88,"b3":4.0,"b2":4.13,"b1":4.33},
{"m":"AR_NPAC","t":21,"a1":3.7,"a2":3.74,"a3":3.8,"md":3.86,"b3":3.98,"b2":4.1,"b1":4.22},
{"m":"AR_NPAC","t":24,"a1":3.69,"a2":3.72,"a3":3.78,"md":3.84,"b3":3.96,"b2":4.12,"b1":4.38},
{"m":"AR_NPAC","t":27,"a1":3.68,"a2":3.71,"a3":3.77,"md":3.82,"b3":3.94,"b2":4.1,"b1":4.25},
{"m":"AR_NPAC","t":30,"a1":3.67,"a2":3.7,"a3":3.76,"md":3.8,"b3":3.92,"b2":4.08,"b1":4.18},
{"m":"AR_NPAC","t":33,"a1":3.66,"a2":3.69,"a3":3.75,"md":3.8,"b3":3.91,"b2":4.06,"b1":4.3},
{"m":"AR_NPAC","t":36,"a1":3.66,"a2":3.69,"a3":3.75,"md":3.8,"b3":3.91,"b2":4.05,"b1":4.15},
{"m":"AR_NPAC","t":39,"a1":3.65,"a2":3.69,"a3":3.75,"md":3.8,"b3":3.92,"b2":4.08,"b1":4.25},
{"m":"AR_NPAC","t":42,"a1":3.65,"a2":3.69,"a3":3.75,"md":3.81,"b3":3.94,"b2":4.12,"b1":4.35},
{"m":"AR_NPAC","t":45,"a1":3.65,"a2":3.7,"a3":3.76,"md":3.82,"b3":3.96,"b2":4.18,"b1":4.55},
{"m":"AR_NPAC","t":48,"a1":3.65,"a2":3.7,"a3":3.78,"md":3.85,"b3":3.99,"b2":4.22,"b1":4.45},
{"m":"AR_NPAC","t":51,"a1":3.66,"a2":3.72,"a3":3.8,"md":3.88,"b3":4.03,"b2":4.26,"b1":4.5},
{"m":"AR_NPAC","t":54,"a1":3.67,"a2":3.74,"a3":3.83,"md":3.92,"b3":4.07,"b2":4.32,"b1":4.62},
{"m":"AR_NPAC","t":57,"a1":3.68,"a2":3.76,"a3":3.85,"md":3.95,"b3":4.1,"b2":4.35,"b1":4.55},
{"m":"AR_NPAC","t":60,"a1":3.69,"a2":3.77,"a3":3.86,"md":3.96,"b3":4.12,"b2":4.38,"b1":4.62},
{"m":"AR_NPAC","t":63,"a1":3.7,"a2":3.78,"a3":3.87,"md":3.97,"b3":4.12,"b2":4.4,"b1":4.8},
{"m":"AR_NPAC","t":66,"a1":3.7,"a2":3.78,"a3":3.87,"md":3.97,"b3":4.12,"b2":4.36,"b1":4.55},
{"m":"AR_NPAC","t":69,"a1":3.7,"a2":3.78,"a3":3.87,"md":3.97,"b3":4.11,"b2":4.33,"b1":4.5},
{"m":"AR_NPAC","t":72,"a1":3.7,"a2":3.78,"a3":3.87,"md":3.96,"b3":4.1,"b2":4.3,"b1":4.45},
{"m":"AR_NPAC","t":75,"a1":3.7,"a2":3.78,"a3":3.86,"md":3.95,"b3":4.09,"b2":4.28,"b1":4.4},
{"m":"AR_NPAC","t":78,"a1":3.7,"a2":3.78,"a3":3.86,"md":3.95,"b3":4.09,"b2":4.28,"b1":4.52},
{"m":"AR_NPAC","t":81,"a1":3.7,"a2":3.78,"a3":3.87,"md":3.96,"b3":4.1,"b2":4.3,"b1":4.4},
{"m":"AR_NPAC","t":84,"a1":3.7,"a2":3.78,"a3":3.87,"md":3.96,"b3":4.1,"b2":4.3,"b1":4.48},
{"m":"AR_NPAC","t":87,"a1":3.7,"a2":3.78,"a3":3.87,"md":3.97,"b3":4.11,"b2":4.32,"b1":4.42},
{"m":"AR_NPAC","t":90,"a1":3.71,"a2":3.79,"a3":3.88,"md":3.99,"b3":4.13,"b2":4.35,"b1":4.58},
{"m":"AR_NPAC","t":93,"a1":3.71,"a2":3.79,"a3":3.88,"md":3.99,"b3":4.13,"b2":4.34,"b1":4.45},
{"m":"AR_NPAC","t":96,"a1":3.71,"a2":3.79,"a3":3.88,"md":3.98,"b3":4.12,"b2":4.32,"b1":4.5},
{"m":"AR_NPAC","t":99,"a1":3.7,"a2":3.78,"a3":3.87,"md":3.97,"b3":4.11,"b2":4.3,"b1":4.38},
{"m":"AR_NPAC","t":102,"a1":3.7,"a2":3.78,"a3":3.87,"md":3.96,"b3":4.1,"b2":4.28,"b1":4.42},
{"m":"AR_NPAC","t":105,"a1":3.7,"a2":3.78,"a3":3.86,"md":3.95,"b3":4.09,"b2":4.26,"b1":4.35},
{"m":"AR_NPAC","t":108,"a1":3.69,"a2":3.77,"a3":3.86,"md":3.95,"b3":4.08,"b2":4.24,"b1":4.32},
{"m":"AR_NPAC","t":111,"a1":3.69,"a2":3.77,"a3":3.85,"md":3.94,"b3":4.07,"b2":4.22,"b1":4.28},
{"m":"AR_NPAC","t":114,"a1":3.68,"a2":3.76,"a3":3.85,"md":3.93,"b3":4.06,"b2":4.2,"b1":4.26},
{"m":"AR_NPAC","t":119,"a1":3.68,"a2":3.76,"a3":3.84,"md":3.92,"b3":4.05,"b2":4.18,"b1":4.22},
{"m":"AR_WATL","t":0,"a1":3.9,"a2":3.91,"a3":3.92,"md":3.95,"b3":3.98,"b2":4.0,"b1":4.02},
{"m":"AR_WATL","t":3,"a1":3.86,"a2":3.88,"a3":3.91,"md":3.96,"b3":4.02,"b2":4.06,"b1":4.1},
{"m":"AR_WATL","t":6,"a1":3.82,"a2":3.85,"a3":3.88,"md":3.93,"b3":4.0,"b2":4.06,"b1":4.15},
{"m":"AR_WATL","t":9,"a1":3.8,"a2":3.82,"a3":3.85,"md":3.91,"b3":3.98,"b2":4.04,"b1":4.1},
{"m":"AR_WATL","t":12,"a1":3.78,"a2":3.8,"a3":3.83,"md":3.89,"b3":3.95,"b2":4.01,"b1":4.06},
{"m":"AR_WATL","t":15,"a1":3.76,"a2":3.78,"a3":3.81,"md":3.86,"b3":3.92,"b2":3.98,"b1":4.05},
{"m":"AR_WATL","t":18,"a1":3.74,"a2":3.76,"a3":3.79,"md":3.84,"b3":3.9,"b2":3.96,"b1":4.02},
{"m":"AR_WATL","t":21,"a1":3.72,"a2":3.74,"a3":3.77,"md":3.82,"b3":3.88,"b2":3.95,"b1":4.0},
{"m":"AR_WATL","t":24,"a1":3.71,"a2":3.73,"a3":3.76,"md":3.8,"b3":3.86,"b2":3.93,"b1":4.02},
{"m":"AR_WATL","t":27,"a1":3.7,"a2":3.72,"a3":3.75,"md":3.79,"b3":3.85,"b2":3.92,"b1":3.98},
{"m":"AR_WATL","t":30,"a1":3.69,"a2":3.71,"a3":3.74,"md":3.78,"b3":3.84,"b2":3.9,"b1":3.96},
{"m":"AR_WATL","t":33,"a1":3.68,"a2":3.7,"a3":3.73,"md":3.77,"b3":3.83,"b2":3.89,"b1":3.94},
{"m":"AR_WATL","t":36,"a1":3.67,"a2":3.69,"a3":3.72,"md":3.76,"b3":3.82,"b2":3.88,"b1":3.95},
{"m":"AR_WATL","t":39,"a1":3.67,"a2":3.69,"a3":3.72,"md":3.76,"b3":3.82,"b2":3.9,"b1":4.0},
{"m":"AR_WATL","t":42,"a1":3.67,"a2":3.7,"a3":3.73,"md":3.77,"b3":3.84,"b2":3.93,"b1":4.05},
{"m":"AR_WATL","t":45,"a1":3.68,"a2":3.71,"a3":3.75,"md":3.8,"b3":3.88,"b2":3.98,"b1":4.1},
{"m":"AR_WATL","t":48,"a1":3.7,"a2":3.74,"a3":3.79,"md":3.86,"b3":3.95,"b2":4.06,"b1":4.2},
{"m":"AR_WATL","t":51,"a1":3.74,"a2":3.8,"a3":3.86,"md":3.95,"b3":4.06,"b2":4.2,"b1":4.45},
{"m":"AR_WATL","t":54,"a1":3.8,"a2":3.88,"a3":3.96,"md":4.08,"b3":4.22,"b2":4.4,"b1":4.75},
{"m":"AR_WATL","t":57,"a1":3.85,"a2":3.94,"a3":4.03,"md":4.16,"b3":4.32,"b2":4.55,"b1":4.83},
{"m":"AR_WATL","t":60,"a1":3.88,"a2":3.97,"a3":4.07,"md":4.2,"b3":4.35,"b2":4.55,"b1":4.75},
{"m":"AR_WATL","t":63,"a1":3.9,"a2":3.99,"a3":4.09,"md":4.22,"b3":4.36,"b2":4.52,"b1":4.68},
{"m":"AR_WATL","t":66,"a1":3.92,"a2":4.01,"a3":4.11,"md":4.24,"b3":4.37,"b2":4.5,"b1":4.62},
{"m":"AR_WATL","t":69,"a1":3.92,"a2":4.01,"a3":4.11,"md":4.23,"b3":4.35,"b2":4.47,"b1":4.58},
{"m":"AR_WATL","t":72,"a1":3.9,"a2":3.98,"a3":4.07,"md":4.18,"b3":4.3,"b2":4.42,"b1":4.52},
{"m":"AR_WATL","t":75,"a1":3.86,"a2":3.94,"a3":4.02,"md":4.12,"b3":4.23,"b2":4.35,"b1":4.45},
{"m":"AR_WATL","t":78,"a1":3.82,"a2":3.89,"a3":3.97,"md":4.06,"b3":4.16,"b2":4.27,"b1":4.36},
{"m":"AR_WATL","t":81,"a1":3.8,"a2":3.87,"a3":3.94,"md":4.03,"b3":4.12,"b2":4.22,"b1":4.31},
{"m":"AR_WATL","t":84,"a1":3.8,"a2":3.87,"a3":3.94,"md":4.02,"b3":4.11,"b2":4.21,"b1":4.3},
{"m":"AR_WATL","t":87,"a1":3.82,"a2":3.89,"a3":3.96,"md":4.04,"b3":4.13,"b2":4.23,"b1":4.33},
{"m":"AR_WATL","t":90,"a1":3.85,"a2":3.92,"a3":4.0,"md":4.08,"b3":4.18,"b2":4.29,"b1":4.4},
{"m":"AR_WATL","t":93,"a1":3.88,"a2":3.96,"a3":4.04,"md":4.13,"b3":4.23,"b2":4.35,"b1":4.48},
{"m":"AR_WATL","t":96,"a1":3.92,"a2":4.0,"a3":4.09,"md":4.19,"b3":4.3,"b2":4.43,"b1":4.58},
{"m":"AR_WATL","t":99,"a1":3.96,"a2":4.05,"a3":4.15,"md":4.26,"b3":4.38,"b2":4.52,"b1":4.68},
{"m":"AR_WATL","t":102,"a1":4.0,"a2":4.1,"a3":4.21,"md":4.33,"b3":4.46,"b2":4.61,"b1":4.78},
{"m":"AR_WATL","t":105,"a1":4.03,"a2":4.13,"a3":4.25,"md":4.38,"b3":4.52,"b2":4.68,"b1":4.83},
{"m":"AR_WATL","t":108,"a1":4.04,"a2":4.14,"a3":4.26,"md":4.4,"b3":4.54,"b2":4.7,"b1":4.83},
{"m":"AR_WATL","t":111,"a1":4.0,"a2":4.1,"a3":4.22,"md":4.36,"b3":4.5,"b2":4.66,"b1":4.8},
{"m":"AR_WATL","t":114,"a1":3.95,"a2":4.05,"a3":4.16,"md":4.3,"b3":4.44,"b2":4.58,"b1":4.72},
{"m":"AR_WATL","t":117,"a1":3.88,"a2":3.98,"a3":4.09,"md":4.23,"b3":4.37,"b2":4.5,"b1":4.62},
{"m":"AR_WATL","t":119,"a1":3.85,"a2":3.95,"a3":4.06,"md":4.2,"b3":4.33,"b2":4.46,"b1":4.58},
{"m":"AR_EATL","t":0,"a1":3.87,"a2":3.89,"a3":3.9,"md":3.92,"b3":3.94,"b2":3.95,"b1":3.97},
{"m":"AR_EATL","t":3.5,"a1":3.87,"a2":3.89,"a3":3.92,"md":3.94,"b3":3.96,"b2":3.98,"b1":4.01},
{"m":"AR_EATL","t":6.4,"a1":3.88,"a2":3.9,"a3":3.92,"md":3.94,"b3":3.96,"b2":3.98,"b1":4.02},
{"m":"AR_EATL","t":9.8,"a1":3.85,"a2":3.87,"a3":3.89,"md":3.91,"b3":3.93,"b2":3.95,"b1":3.98},
{"m":"AR_EATL","t":14,"a1":3.8,"a2":3.82,"a3":3.835,"md":3.853,"b3":3.87,"b2":3.89,"b1":3.92},
{"m":"AR_EATL","t":19.7,"a1":3.72,"a2":3.74,"a3":3.76,"md":3.78,"b3":3.8,"b2":3.82,"b1":3.85},
{"m":"AR_EATL","t":25,"a1":3.66,"a2":3.68,"a3":3.7,"md":3.72,"b3":3.74,"b2":3.76,"b1":3.79},
{"m":"AR_EATL","t":30.7,"a1":3.641,"a2":3.645,"a3":3.66,"md":3.68,"b3":3.7,"b2":3.72,"b1":3.74},
{"m":"AR_EATL","t":35,"a1":3.641,"a2":3.641,"a3":3.641,"md":3.65,"b3":3.67,"b2":3.68,"b1":3.7},
{"m":"AR_EATL","t":41.8,"a1":3.641,"a2":3.641,"a3":3.641,"md":3.641,"b3":3.645,"b2":3.65,"b1":3.66},
{"m":"AR_EATL","t":44,"a1":3.641,"a2":3.641,"a3":3.641,"md":3.66,"b3":3.68,"b2":3.7,"b1":3.74},
{"m":"AR_EATL","t":47,"a1":3.7,"a2":3.74,"a3":3.78,"md":3.82,"b3":3.86,"b2":3.9,"b1":3.95},
{"m":"AR_EATL","t":49.5,"a1":3.8,"a2":3.85,"a3":3.89,"md":3.94,"b3":3.98,"b2":4.02,"b1":4.08},
{"m":"AR_EATL","t":53,"a1":3.92,"a2":3.97,"a3":4.01,"md":4.06,"b3":4.1,"b2":4.14,"b1":4.22},
{"m":"AR_EATL","t":56,"a1":3.86,"a2":3.9,"a3":3.94,"md":3.97,"b3":4.0,"b2":4.04,"b1":4.1},
{"m":"AR_EATL","t":58.5,"a1":3.84,"a2":3.88,"a3":3.91,"md":3.94,"b3":3.97,"b2":4.01,"b1":4.06},
{"m":"AR_EATL","t":61,"a1":3.88,"a2":3.92,"a3":3.96,"md":4.0,"b3":4.04,"b2":4.09,"b1":4.16},
{"m":"AR_EATL","t":64,"a1":4.04,"a2":4.09,"a3":4.13,"md":4.176,"b3":4.22,"b2":4.28,"b1":4.36},
{"m":"AR_EATL","t":66.5,"a1":4.02,"a2":4.07,"a3":4.11,"md":4.147,"b3":4.19,"b2":4.24,"b1":4.3},
{"m":"AR_EATL","t":69.5,"a1":4.1,"a2":4.15,"a3":4.19,"md":4.235,"b3":4.28,"b2":4.33,"b1":4.38},
{"m":"AR_EATL","t":72,"a1":4.04,"a2":4.09,"a3":4.13,"md":4.176,"b3":4.22,"b2":4.26,"b1":4.31},
{"m":"AR_EATL","t":74,"a1":4.0,"a2":4.05,"a3":4.09,"md":4.132,"b3":4.17,"b2":4.21,"b1":4.26},
{"m":"AR_EATL","t":77,"a1":3.97,"a2":4.02,"a3":4.06,"md":4.1,"b3":4.14,"b2":4.18,"b1":4.23},
{"m":"AR_EATL","t":80.5,"a1":3.96,"a2":4.01,"a3":4.05,"md":4.088,"b3":4.13,"b2":4.17,"b1":4.22},
{"m":"AR_EATL","t":84,"a1":3.93,"a2":3.98,"a3":4.02,"md":4.06,"b3":4.1,"b2":4.14,"b1":4.19},
{"m":"AR_EATL","t":87,"a1":3.92,"a2":3.96,"a3":4.0,"md":4.044,"b3":4.08,"b2":4.12,"b1":4.17},
{"m":"AR_EATL","t":90.4,"a1":3.86,"a2":3.9,"a3":3.94,"md":3.985,"b3":4.03,"b2":4.07,"b1":4.12},
{"m":"AR_EATL","t":93,"a1":3.95,"a2":4.0,"a3":4.04,"md":4.088,"b3":4.13,"b2":4.18,"b1":4.24},
{"m":"AR_EATL","t":96,"a1":4.09,"a2":4.14,"a3":4.19,"md":4.235,"b3":4.28,"b2":4.33,"b1":4.38},
{"m":"AR_EATL","t":99,"a1":4.08,"a2":4.13,"a3":4.18,"md":4.22,"b3":4.26,"b2":4.31,"b1":4.36},
{"m":"AR_EATL","t":102.6,"a1":4.12,"a2":4.17,"a3":4.22,"md":4.264,"b3":4.31,"b2":4.35,"b1":4.38},
{"m":"AR_EATL","t":105,"a1":4.05,"a2":4.1,"a3":4.15,"md":4.19,"b3":4.23,"b2":4.27,"b1":4.32},
{"m":"AR_EATL","t":108,"a1":3.98,"a2":4.03,"a3":4.08,"md":4.117,"b3":4.16,"b2":4.2,"b1":4.25},
{"m":"AR_EATL","t":111,"a1":3.95,"a2":4.0,"a3":4.05,"md":4.088,"b3":4.13,"b2":4.17,"b1":4.22},
{"m":"AR_EATL","t":113.7,"a1":3.91,"a2":3.96,"a3":4.0,"md":4.044,"b3":4.09,"b2":4.13,"b1":4.18},
{"m":"AR_EATL","t":117,"a1":3.9,"a2":3.94,"a3":3.99,"md":4.03,"b3":4.07,"b2":4.11,"b1":4.16},
{"m":"AR_EATL","t":119,"a1":3.91,"a2":3.95,"a3":4.0,"md":4.044,"b3":4.08,"b2":4.12,"b1":4.17}
]
},
"concat":[
{"width":401,"height":244,"title":{"text":"Lower Thames:","anchor":"middle","frame":"group","dx":-18.8,"offset":-25},"resolve":{"axis":{"x":"independent"}},
 "layer":[
  {"data":{"name":"pe"},"transform":[{"filter":"datum.m==='S4'"}],
   "encoding":{"x":{"field":"t","type":"quantitative","scale":{"domain":[0,119],"nice":false,"zero":false},"axis":{"orient":"bottom","values":[0,7,14,21,28,35,42,49,56,63,70,77,84,91,98,105,112,119],"tickCount":40,"labels":false,"title":null,"tickSize":4}}},
   "layer":[
    {"mark":{"type":"area","color":"#e6e6e6"},"encoding":{"y":{"field":"a1","type":"quantitative","scale":{"domain":[-21,477],"nice":false,"zero":false},"axis":{"values":[100,200,300,400],"title":["Areal cumulative","precipitation (mm)"],"titlePadding":14,"labelPadding":5,"tickSize":4}},"y2":{"field":"b1"}}},
    {"mark":{"type":"area","color":"#d1d1d1"},"encoding":{"y":{"field":"a2","type":"quantitative","scale":{"domain":[-21,477],"nice":false,"zero":false}},"y2":{"field":"b2"}}},
    {"mark":{"type":"area","color":"#b9b9b9"},"encoding":{"y":{"field":"a3","type":"quantitative","scale":{"domain":[-21,477],"nice":false,"zero":false}},"y2":{"field":"b3"}}},
    {"mark":{"type":"line","color":"#848484","strokeWidth":1.3},"encoding":{"y":{"field":"md","type":"quantitative","scale":{"domain":[-21,477],"nice":false,"zero":false}}}}
   ]},
  {"data":{"name":"po"},"mark":{"type":"line","color":"#cc3fae","strokeWidth":1.6},
   "encoding":{"x":{"field":"t","type":"quantitative","scale":{"domain":[0,119],"nice":false,"zero":false},"axis":{"orient":"top","domain":false,"ticks":false,"labels":false,"grid":false,"title":"S4","titleFontSize":25,"titleFontWeight":"normal","titleFontStyle":"normal","titleColor":"#111111","titlePadding":10,"titleX":290,"titleAlign":"center"}},"y":{"field":"v","type":"quantitative","scale":{"domain":[-21,477],"nice":false,"zero":false}}}}
 ]},
{"width":401,"height":244,"title":{"text":"Lower Thames:","anchor":"middle","frame":"group","dx":-62.5,"offset":-25},"resolve":{"axis":{"x":"independent"}},
 "layer":[
  {"data":{"name":"pe"},"transform":[{"filter":"datum.m==='AR_NPAC'"}],
   "encoding":{"x":{"field":"t","type":"quantitative","scale":{"domain":[0,119],"nice":false,"zero":false},"axis":{"orient":"bottom","values":[0,7,14,21,28,35,42,49,56,63,70,77,84,91,98,105,112,119],"tickCount":40,"labels":false,"title":null,"tickSize":4}}},
   "layer":[
    {"mark":{"type":"area","color":"#e6e6e6"},"encoding":{"y":{"field":"a1","type":"quantitative","scale":{"domain":[-21,477],"nice":false,"zero":false},"axis":{"values":[100,200,300,400],"labels":false,"title":null,"tickSize":4}},"y2":{"field":"b1"}}},
    {"mark":{"type":"area","color":"#d1d1d1"},"encoding":{"y":{"field":"a2","type":"quantitative","scale":{"domain":[-21,477],"nice":false,"zero":false}},"y2":{"field":"b2"}}},
    {"mark":{"type":"area","color":"#b9b9b9"},"encoding":{"y":{"field":"a3","type":"quantitative","scale":{"domain":[-21,477],"nice":false,"zero":false}},"y2":{"field":"b3"}}},
    {"mark":{"type":"line","color":"#848484","strokeWidth":1.3},"encoding":{"y":{"field":"md","type":"quantitative","scale":{"domain":[-21,477],"nice":false,"zero":false}}}}
   ]},
  {"data":{"name":"po"},"mark":{"type":"line","color":"#cc3fae","strokeWidth":1.6},
   "encoding":{"x":{"field":"t","type":"quantitative","scale":{"domain":[0,119],"nice":false,"zero":false},"axis":{"orient":"top","domain":false,"ticks":false,"labels":false,"grid":false,"title":"AR_NPAC","titleFontSize":25,"titleFontWeight":"normal","titleFontStyle":"italic","titleColor":"#111111","titlePadding":10,"titleX":290,"titleAlign":"center"}},"y":{"field":"v","type":"quantitative","scale":{"domain":[-21,477],"nice":false,"zero":false}}}}
 ]},
{"width":401,"height":244,"title":{"text":"Lower Thames:","anchor":"middle","frame":"group","dx":-62.5,"offset":-25},"resolve":{"axis":{"x":"independent"}},
 "layer":[
  {"data":{"name":"pe"},"transform":[{"filter":"datum.m==='AR_WATL'"}],
   "encoding":{"x":{"field":"t","type":"quantitative","scale":{"domain":[0,119],"nice":false,"zero":false},"axis":{"orient":"bottom","values":[0,7,14,21,28,35,42,49,56,63,70,77,84,91,98,105,112,119],"tickCount":40,"labels":false,"title":null,"tickSize":4}}},
   "layer":[
    {"mark":{"type":"area","color":"#e6e6e6"},"encoding":{"y":{"field":"a1","type":"quantitative","scale":{"domain":[-21,477],"nice":false,"zero":false},"axis":{"values":[100,200,300,400],"labels":false,"title":null,"tickSize":4}},"y2":{"field":"b1"}}},
    {"mark":{"type":"area","color":"#d1d1d1"},"encoding":{"y":{"field":"a2","type":"quantitative","scale":{"domain":[-21,477],"nice":false,"zero":false}},"y2":{"field":"b2"}}},
    {"mark":{"type":"area","color":"#b9b9b9"},"encoding":{"y":{"field":"a3","type":"quantitative","scale":{"domain":[-21,477],"nice":false,"zero":false}},"y2":{"field":"b3"}}},
    {"mark":{"type":"line","color":"#848484","strokeWidth":1.3},"encoding":{"y":{"field":"md","type":"quantitative","scale":{"domain":[-21,477],"nice":false,"zero":false}}}}
   ]},
  {"data":{"name":"po"},"mark":{"type":"line","color":"#cc3fae","strokeWidth":1.6},
   "encoding":{"x":{"field":"t","type":"quantitative","scale":{"domain":[0,119],"nice":false,"zero":false},"axis":{"orient":"top","domain":false,"ticks":false,"labels":false,"grid":false,"title":"AR_WATL","titleFontSize":25,"titleFontWeight":"normal","titleFontStyle":"italic","titleColor":"#111111","titlePadding":10,"titleX":290,"titleAlign":"center"}},"y":{"field":"v","type":"quantitative","scale":{"domain":[-21,477],"nice":false,"zero":false}}}}
 ]},
{"width":401,"height":244,"title":{"text":"Lower Thames:","anchor":"middle","frame":"group","dx":-62.5,"offset":-25},"resolve":{"axis":{"x":"independent"}},
 "layer":[
  {"data":{"name":"pe"},"transform":[{"filter":"datum.m==='AR_EATL'"}],
   "encoding":{"x":{"field":"t","type":"quantitative","scale":{"domain":[0,119],"nice":false,"zero":false},"axis":{"orient":"bottom","values":[0,7,14,21,28,35,42,49,56,63,70,77,84,91,98,105,112,119],"tickCount":40,"labels":false,"title":null,"tickSize":4}}},
   "layer":[
    {"mark":{"type":"area","color":"#e6e6e6"},"encoding":{"y":{"field":"a1","type":"quantitative","scale":{"domain":[-21,477],"nice":false,"zero":false},"axis":{"values":[100,200,300,400],"labels":false,"title":null,"tickSize":4}},"y2":{"field":"b1"}}},
    {"mark":{"type":"area","color":"#d1d1d1"},"encoding":{"y":{"field":"a2","type":"quantitative","scale":{"domain":[-21,477],"nice":false,"zero":false}},"y2":{"field":"b2"}}},
    {"mark":{"type":"area","color":"#b9b9b9"},"encoding":{"y":{"field":"a3","type":"quantitative","scale":{"domain":[-21,477],"nice":false,"zero":false}},"y2":{"field":"b3"}}},
    {"mark":{"type":"line","color":"#848484","strokeWidth":1.3},"encoding":{"y":{"field":"md","type":"quantitative","scale":{"domain":[-21,477],"nice":false,"zero":false}}}}
   ]},
  {"data":{"name":"po"},"mark":{"type":"line","color":"#cc3fae","strokeWidth":1.6},
   "encoding":{"x":{"field":"t","type":"quantitative","scale":{"domain":[0,119],"nice":false,"zero":false},"axis":{"orient":"top","domain":false,"ticks":false,"labels":false,"grid":false,"title":"AR_EATL","titleFontSize":25,"titleFontWeight":"normal","titleFontStyle":"italic","titleColor":"#111111","titlePadding":10,"titleX":290,"titleAlign":"center"}},"y":{"field":"v","type":"quantitative","scale":{"domain":[-21,477],"nice":false,"zero":false}}}}
 ]},
{"width":401,"height":263,
 "layer":[
  {"data":{"name":"qe"},"transform":[{"filter":"datum.m==='S4'"}],
   "encoding":{"x":{"field":"t","type":"quantitative","scale":{"domain":[0,119],"nice":false,"zero":false},"axis":{"orient":"bottom","values":[0,7,14,21,28,35,42,49,56,63,70,77,84,91,98,105,112,119],"tickCount":40,"labels":false,"title":null,"tickSize":4}}},
   "layer":[
    {"mark":{"type":"area","color":"#cde8f6"},"encoding":{"y":{"field":"a1","type":"quantitative","scale":{"domain":[-10,718],"nice":false,"zero":false},"axis":{"values":[100,200,300,400,500,600,700],"tickCount":20,"title":"Streamflow (m³s⁻¹)","titlePadding":14,"labelPadding":5,"tickSize":4}},"y2":{"field":"b1"}}},
    {"mark":{"type":"area","color":"#9fd4ef"},"encoding":{"y":{"field":"a2","type":"quantitative","scale":{"domain":[-10,718],"nice":false,"zero":false}},"y2":{"field":"b2"}}},
    {"mark":{"type":"area","color":"#72bfe5"},"encoding":{"y":{"field":"a3","type":"quantitative","scale":{"domain":[-10,718],"nice":false,"zero":false}},"y2":{"field":"b3"}}},
    {"mark":{"type":"line","color":"#3a96cc","strokeWidth":1.3},"encoding":{"y":{"field":"md","type":"quantitative","scale":{"domain":[-10,718],"nice":false,"zero":false}}}}
   ]},
  {"data":{"name":"qm"},"mark":{"type":"line","color":"#cc3fae","strokeWidth":1.6},"encoding":{"x":{"field":"t","type":"quantitative","scale":{"domain":[0,119],"nice":false,"zero":false}},"y":{"field":"v","type":"quantitative","scale":{"domain":[-10,718],"nice":false,"zero":false}}}},
  {"data":{"name":"qk"},"mark":{"type":"line","color":"#2b2b2b","strokeWidth":1.6},"encoding":{"x":{"field":"t","type":"quantitative","scale":{"domain":[0,119],"nice":false,"zero":false}},"y":{"field":"v","type":"quantitative","scale":{"domain":[-10,718],"nice":false,"zero":false}}}},
  {"data":{"values":[{}]},"mark":{"type":"rule","color":"#333333","strokeWidth":1.3,"strokeDash":[7,4]},"encoding":{"y":{"datum":152.5,"type":"quantitative","scale":{"domain":[-10,718],"nice":false,"zero":false}}}}
 ]},
{"width":401,"height":263,
 "layer":[
  {"data":{"name":"qe"},"transform":[{"filter":"datum.m==='AR_NPAC'"}],
   "encoding":{"x":{"field":"t","type":"quantitative","scale":{"domain":[0,119],"nice":false,"zero":false},"axis":{"orient":"bottom","values":[0,7,14,21,28,35,42,49,56,63,70,77,84,91,98,105,112,119],"tickCount":40,"labels":false,"title":null,"tickSize":4}}},
   "layer":[
    {"mark":{"type":"area","color":"#cde8f6"},"encoding":{"y":{"field":"a1","type":"quantitative","scale":{"domain":[-10,718],"nice":false,"zero":false},"axis":{"values":[100,200,300,400,500,600,700],"tickCount":20,"labels":false,"title":null,"tickSize":4}},"y2":{"field":"b1"}}},
    {"mark":{"type":"area","color":"#9fd4ef"},"encoding":{"y":{"field":"a2","type":"quantitative","scale":{"domain":[-10,718],"nice":false,"zero":false}},"y2":{"field":"b2"}}},
    {"mark":{"type":"area","color":"#72bfe5"},"encoding":{"y":{"field":"a3","type":"quantitative","scale":{"domain":[-10,718],"nice":false,"zero":false}},"y2":{"field":"b3"}}},
    {"mark":{"type":"line","color":"#3a96cc","strokeWidth":1.3},"encoding":{"y":{"field":"md","type":"quantitative","scale":{"domain":[-10,718],"nice":false,"zero":false}}}}
   ]},
  {"data":{"name":"qm"},"mark":{"type":"line","color":"#cc3fae","strokeWidth":1.6},"encoding":{"x":{"field":"t","type":"quantitative","scale":{"domain":[0,119],"nice":false,"zero":false}},"y":{"field":"v","type":"quantitative","scale":{"domain":[-10,718],"nice":false,"zero":false}}}},
  {"data":{"name":"qk"},"mark":{"type":"line","color":"#2b2b2b","strokeWidth":1.6},"encoding":{"x":{"field":"t","type":"quantitative","scale":{"domain":[0,119],"nice":false,"zero":false}},"y":{"field":"v","type":"quantitative","scale":{"domain":[-10,718],"nice":false,"zero":false}}}},
  {"data":{"values":[{}]},"mark":{"type":"rule","color":"#333333","strokeWidth":1.3,"strokeDash":[7,4]},"encoding":{"y":{"datum":152.5,"type":"quantitative","scale":{"domain":[-10,718],"nice":false,"zero":false}}}}
 ]},
{"width":401,"height":263,
 "layer":[
  {"data":{"name":"qe"},"transform":[{"filter":"datum.m==='AR_WATL'"}],
   "encoding":{"x":{"field":"t","type":"quantitative","scale":{"domain":[0,119],"nice":false,"zero":false},"axis":{"orient":"bottom","values":[0,7,14,21,28,35,42,49,56,63,70,77,84,91,98,105,112,119],"tickCount":40,"labels":false,"title":null,"tickSize":4}}},
   "layer":[
    {"mark":{"type":"area","color":"#cde8f6"},"encoding":{"y":{"field":"a1","type":"quantitative","scale":{"domain":[-10,718],"nice":false,"zero":false},"axis":{"values":[100,200,300,400,500,600,700],"tickCount":20,"labels":false,"title":null,"tickSize":4}},"y2":{"field":"b1"}}},
    {"mark":{"type":"area","color":"#9fd4ef"},"encoding":{"y":{"field":"a2","type":"quantitative","scale":{"domain":[-10,718],"nice":false,"zero":false}},"y2":{"field":"b2"}}},
    {"mark":{"type":"area","color":"#72bfe5"},"encoding":{"y":{"field":"a3","type":"quantitative","scale":{"domain":[-10,718],"nice":false,"zero":false}},"y2":{"field":"b3"}}},
    {"mark":{"type":"line","color":"#3a96cc","strokeWidth":1.3},"encoding":{"y":{"field":"md","type":"quantitative","scale":{"domain":[-10,718],"nice":false,"zero":false}}}}
   ]},
  {"data":{"name":"qm"},"mark":{"type":"line","color":"#cc3fae","strokeWidth":1.6},"encoding":{"x":{"field":"t","type":"quantitative","scale":{"domain":[0,119],"nice":false,"zero":false}},"y":{"field":"v","type":"quantitative","scale":{"domain":[-10,718],"nice":false,"zero":false}}}},
  {"data":{"name":"qk"},"mark":{"type":"line","color":"#2b2b2b","strokeWidth":1.6},"encoding":{"x":{"field":"t","type":"quantitative","scale":{"domain":[0,119],"nice":false,"zero":false}},"y":{"field":"v","type":"quantitative","scale":{"domain":[-10,718],"nice":false,"zero":false}}}},
  {"data":{"values":[{}]},"mark":{"type":"rule","color":"#333333","strokeWidth":1.3,"strokeDash":[7,4]},"encoding":{"y":{"datum":152.5,"type":"quantitative","scale":{"domain":[-10,718],"nice":false,"zero":false}}}}
 ]},
{"width":401,"height":263,
 "layer":[
  {"data":{"name":"qe"},"transform":[{"filter":"datum.m==='AR_EATL'"}],
   "encoding":{"x":{"field":"t","type":"quantitative","scale":{"domain":[0,119],"nice":false,"zero":false},"axis":{"orient":"bottom","values":[0,7,14,21,28,35,42,49,56,63,70,77,84,91,98,105,112,119],"tickCount":40,"labels":false,"title":null,"tickSize":4}}},
   "layer":[
    {"mark":{"type":"area","color":"#cde8f6"},"encoding":{"y":{"field":"a1","type":"quantitative","scale":{"domain":[-10,718],"nice":false,"zero":false},"axis":{"values":[100,200,300,400,500,600,700],"tickCount":20,"labels":false,"title":null,"tickSize":4}},"y2":{"field":"b1"}}},
    {"mark":{"type":"area","color":"#9fd4ef"},"encoding":{"y":{"field":"a2","type":"quantitative","scale":{"domain":[-10,718],"nice":false,"zero":false}},"y2":{"field":"b2"}}},
    {"mark":{"type":"area","color":"#72bfe5"},"encoding":{"y":{"field":"a3","type":"quantitative","scale":{"domain":[-10,718],"nice":false,"zero":false}},"y2":{"field":"b3"}}},
    {"mark":{"type":"line","color":"#3a96cc","strokeWidth":1.3},"encoding":{"y":{"field":"md","type":"quantitative","scale":{"domain":[-10,718],"nice":false,"zero":false}}}}
   ]},
  {"data":{"name":"qm"},"mark":{"type":"line","color":"#cc3fae","strokeWidth":1.6},"encoding":{"x":{"field":"t","type":"quantitative","scale":{"domain":[0,119],"nice":false,"zero":false}},"y":{"field":"v","type":"quantitative","scale":{"domain":[-10,718],"nice":false,"zero":false}}}},
  {"data":{"name":"qk"},"mark":{"type":"line","color":"#2b2b2b","strokeWidth":1.6},"encoding":{"x":{"field":"t","type":"quantitative","scale":{"domain":[0,119],"nice":false,"zero":false}},"y":{"field":"v","type":"quantitative","scale":{"domain":[-10,718],"nice":false,"zero":false}}}},
  {"data":{"values":[{}]},"mark":{"type":"rule","color":"#333333","strokeWidth":1.3,"strokeDash":[7,4]},"encoding":{"y":{"datum":152.5,"type":"quantitative","scale":{"domain":[-10,718],"nice":false,"zero":false}}}}
 ]},
{"width":401,"height":288,"resolve":{"scale":{"y":"independent"}},
 "layer":[
  {"layer":[
    {"data":{"name":"ge"},"transform":[{"filter":"datum.m==='S4'"}],
     "encoding":{"x":{"field":"t","type":"quantitative","scale":{"domain":[0,119],"nice":false,"zero":false},"axis":{"orient":"bottom","values":[0,7,14,21,28,35,42,49,56,63,70,77,84,91,98,105,112,119],"tickCount":40,"title":null,"tickSize":4,"labelAngle":-60,"labelAlign":"right","labelBaseline":"middle","labelFontSize":14,"labelPadding":4,"labelFlush":false,"labelOverlap":false,"labelBound":false,"labelExpr":"['Nov 1st','8th','15th','22nd','29th','Dec 6th','13th','20th','27th','Jan 3rd','10th','17th','24th','31st','Feb 7th','14th','21st','28th'][round(datum.value/7)]"}}},
     "layer":[
      {"mark":{"type":"area","color":"#c9d7ea","clip":true},"encoding":{"y":{"field":"a1","type":"quantitative","scale":{"domain":[3.568,4.832],"nice":false,"zero":false},"axis":{"values":[3.6,3.8,4.0,4.2,4.4,4.6,4.8],"tickCount":20,"format":".1f","title":["EA borehole groundwater","level (m AOD)"],"titlePadding":14,"labelPadding":5,"tickSize":4}},"y2":{"field":"b1"}}},
      {"mark":{"type":"area","color":"#a2bade","clip":true},"encoding":{"y":{"field":"a2","type":"quantitative","scale":{"domain":[3.568,4.832],"nice":false,"zero":false}},"y2":{"field":"b2"}}},
      {"mark":{"type":"area","color":"#7c9ecf","clip":true},"encoding":{"y":{"field":"a3","type":"quantitative","scale":{"domain":[3.568,4.832],"nice":false,"zero":false}},"y2":{"field":"b3"}}},
      {"mark":{"type":"line","color":"#3f6cad","strokeWidth":1.3},"encoding":{"y":{"field":"md","type":"quantitative","scale":{"domain":[3.568,4.832],"nice":false,"zero":false}}}}
     ]},
    {"data":{"name":"gm"},"mark":{"type":"line","color":"#cc3fae","strokeWidth":1.6},"encoding":{"x":{"field":"t","type":"quantitative","scale":{"domain":[0,119],"nice":false,"zero":false}},"y":{"field":"v","type":"quantitative","scale":{"domain":[3.568,4.832],"nice":false,"zero":false}}}},
    {"data":{"values":[{}]},"mark":{"type":"rule","color":"#333333","strokeWidth":1.3,"strokeDash":[7,4]},"encoding":{"y":{"datum":4.308,"type":"quantitative","scale":{"domain":[3.568,4.832],"nice":false,"zero":false}}}},
    {"data":{"values":[{}]},"mark":{"type":"rule","color":"#333333","strokeWidth":1.3,"strokeDash":[3,2]},"encoding":{"y":{"datum":3.71,"type":"quantitative","scale":{"domain":[3.568,4.832],"nice":false,"zero":false}}}}
  ]},
  {"data":{"name":"gk"},"mark":{"type":"line","color":"#2b2b2b","strokeWidth":1.6},"encoding":{"x":{"field":"t","type":"quantitative","scale":{"domain":[0,119],"nice":false,"zero":false}},"y":{"field":"v","type":"quantitative","scale":{"domain":[-3.7,52.6],"nice":false,"zero":false},"axis":{"orient":"right","values":[0,10,20,30,40,50],"tickCount":20,"labels":false,"title":null,"tickSize":4}}}}
 ]},
{"width":401,"height":288,"resolve":{"scale":{"y":"independent"}},
 "layer":[
  {"layer":[
    {"data":{"name":"ge"},"transform":[{"filter":"datum.m==='AR_NPAC'"}],
     "encoding":{"x":{"field":"t","type":"quantitative","scale":{"domain":[0,119],"nice":false,"zero":false},"axis":{"orient":"bottom","values":[0,7,14,21,28,35,42,49,56,63,70,77,84,91,98,105,112,119],"tickCount":40,"title":null,"tickSize":4,"labelAngle":-60,"labelAlign":"right","labelBaseline":"middle","labelFontSize":14,"labelPadding":4,"labelFlush":false,"labelOverlap":false,"labelBound":false,"labelExpr":"['Nov 1st','8th','15th','22nd','29th','Dec 6th','13th','20th','27th','Jan 3rd','10th','17th','24th','31st','Feb 7th','14th','21st','28th'][round(datum.value/7)]"}}},
     "layer":[
      {"mark":{"type":"area","color":"#c9d7ea","clip":true},"encoding":{"y":{"field":"a1","type":"quantitative","scale":{"domain":[3.568,4.832],"nice":false,"zero":false},"axis":{"values":[3.6,3.8,4.0,4.2,4.4,4.6,4.8],"tickCount":20,"labels":false,"title":null,"tickSize":4}},"y2":{"field":"b1"}}},
      {"mark":{"type":"area","color":"#a2bade","clip":true},"encoding":{"y":{"field":"a2","type":"quantitative","scale":{"domain":[3.568,4.832],"nice":false,"zero":false}},"y2":{"field":"b2"}}},
      {"mark":{"type":"area","color":"#7c9ecf","clip":true},"encoding":{"y":{"field":"a3","type":"quantitative","scale":{"domain":[3.568,4.832],"nice":false,"zero":false}},"y2":{"field":"b3"}}},
      {"mark":{"type":"line","color":"#3f6cad","strokeWidth":1.3},"encoding":{"y":{"field":"md","type":"quantitative","scale":{"domain":[3.568,4.832],"nice":false,"zero":false}}}}
     ]},
    {"data":{"name":"gm"},"mark":{"type":"line","color":"#cc3fae","strokeWidth":1.6},"encoding":{"x":{"field":"t","type":"quantitative","scale":{"domain":[0,119],"nice":false,"zero":false}},"y":{"field":"v","type":"quantitative","scale":{"domain":[3.568,4.832],"nice":false,"zero":false}}}},
    {"data":{"values":[{}]},"mark":{"type":"rule","color":"#333333","strokeWidth":1.3,"strokeDash":[7,4]},"encoding":{"y":{"datum":4.308,"type":"quantitative","scale":{"domain":[3.568,4.832],"nice":false,"zero":false}}}},
    {"data":{"values":[{}]},"mark":{"type":"rule","color":"#333333","strokeWidth":1.3,"strokeDash":[3,2]},"encoding":{"y":{"datum":3.71,"type":"quantitative","scale":{"domain":[3.568,4.832],"nice":false,"zero":false}}}}
  ]},
  {"data":{"name":"gk"},"mark":{"type":"line","color":"#2b2b2b","strokeWidth":1.6},"encoding":{"x":{"field":"t","type":"quantitative","scale":{"domain":[0,119],"nice":false,"zero":false}},"y":{"field":"v","type":"quantitative","scale":{"domain":[-3.7,52.6],"nice":false,"zero":false},"axis":{"orient":"right","values":[0,10,20,30,40,50],"tickCount":20,"labels":false,"title":null,"tickSize":4}}}}
 ]},
{"width":401,"height":288,"resolve":{"scale":{"y":"independent"}},
 "layer":[
  {"layer":[
    {"data":{"name":"ge"},"transform":[{"filter":"datum.m==='AR_WATL'"}],
     "encoding":{"x":{"field":"t","type":"quantitative","scale":{"domain":[0,119],"nice":false,"zero":false},"axis":{"orient":"bottom","values":[0,7,14,21,28,35,42,49,56,63,70,77,84,91,98,105,112,119],"tickCount":40,"title":null,"tickSize":4,"labelAngle":-60,"labelAlign":"right","labelBaseline":"middle","labelFontSize":14,"labelPadding":4,"labelFlush":false,"labelOverlap":false,"labelBound":false,"labelExpr":"['Nov 1st','8th','15th','22nd','29th','Dec 6th','13th','20th','27th','Jan 3rd','10th','17th','24th','31st','Feb 7th','14th','21st','28th'][round(datum.value/7)]"}}},
     "layer":[
      {"mark":{"type":"area","color":"#c9d7ea","clip":true},"encoding":{"y":{"field":"a1","type":"quantitative","scale":{"domain":[3.568,4.832],"nice":false,"zero":false},"axis":{"values":[3.6,3.8,4.0,4.2,4.4,4.6,4.8],"tickCount":20,"labels":false,"title":null,"tickSize":4}},"y2":{"field":"b1"}}},
      {"mark":{"type":"area","color":"#a2bade","clip":true},"encoding":{"y":{"field":"a2","type":"quantitative","scale":{"domain":[3.568,4.832],"nice":false,"zero":false}},"y2":{"field":"b2"}}},
      {"mark":{"type":"area","color":"#7c9ecf","clip":true},"encoding":{"y":{"field":"a3","type":"quantitative","scale":{"domain":[3.568,4.832],"nice":false,"zero":false}},"y2":{"field":"b3"}}},
      {"mark":{"type":"line","color":"#3f6cad","strokeWidth":1.3},"encoding":{"y":{"field":"md","type":"quantitative","scale":{"domain":[3.568,4.832],"nice":false,"zero":false}}}}
     ]},
    {"data":{"name":"gm"},"mark":{"type":"line","color":"#cc3fae","strokeWidth":1.6},"encoding":{"x":{"field":"t","type":"quantitative","scale":{"domain":[0,119],"nice":false,"zero":false}},"y":{"field":"v","type":"quantitative","scale":{"domain":[3.568,4.832],"nice":false,"zero":false}}}},
    {"data":{"values":[{}]},"mark":{"type":"rule","color":"#333333","strokeWidth":1.3,"strokeDash":[7,4]},"encoding":{"y":{"datum":4.308,"type":"quantitative","scale":{"domain":[3.568,4.832],"nice":false,"zero":false}}}},
    {"data":{"values":[{}]},"mark":{"type":"rule","color":"#333333","strokeWidth":1.3,"strokeDash":[3,2]},"encoding":{"y":{"datum":3.71,"type":"quantitative","scale":{"domain":[3.568,4.832],"nice":false,"zero":false}}}}
  ]},
  {"data":{"name":"gk"},"mark":{"type":"line","color":"#2b2b2b","strokeWidth":1.6},"encoding":{"x":{"field":"t","type":"quantitative","scale":{"domain":[0,119],"nice":false,"zero":false}},"y":{"field":"v","type":"quantitative","scale":{"domain":[-3.7,52.6],"nice":false,"zero":false},"axis":{"orient":"right","values":[0,10,20,30,40,50],"tickCount":20,"labels":false,"title":null,"tickSize":4}}}}
 ]},
{"width":401,"height":288,"resolve":{"scale":{"y":"independent"}},
 "layer":[
  {"layer":[
    {"data":{"name":"ge"},"transform":[{"filter":"datum.m==='AR_EATL'"}],
     "encoding":{"x":{"field":"t","type":"quantitative","scale":{"domain":[0,119],"nice":false,"zero":false},"axis":{"orient":"bottom","values":[0,7,14,21,28,35,42,49,56,63,70,77,84,91,98,105,112,119],"tickCount":40,"title":null,"tickSize":4,"labelAngle":-60,"labelAlign":"right","labelBaseline":"middle","labelFontSize":14,"labelPadding":4,"labelFlush":false,"labelOverlap":false,"labelBound":false,"labelExpr":"['Nov 1st','8th','15th','22nd','29th','Dec 6th','13th','20th','27th','Jan 3rd','10th','17th','24th','31st','Feb 7th','14th','21st','28th'][round(datum.value/7)]"}}},
     "layer":[
      {"mark":{"type":"area","color":"#c9d7ea","clip":true},"encoding":{"y":{"field":"a1","type":"quantitative","scale":{"domain":[3.568,4.832],"nice":false,"zero":false},"axis":{"values":[3.6,3.8,4.0,4.2,4.4,4.6,4.8],"tickCount":20,"labels":false,"title":null,"tickSize":4}},"y2":{"field":"b1"}}},
      {"mark":{"type":"area","color":"#a2bade","clip":true},"encoding":{"y":{"field":"a2","type":"quantitative","scale":{"domain":[3.568,4.832],"nice":false,"zero":false}},"y2":{"field":"b2"}}},
      {"mark":{"type":"area","color":"#7c9ecf","clip":true},"encoding":{"y":{"field":"a3","type":"quantitative","scale":{"domain":[3.568,4.832],"nice":false,"zero":false}},"y2":{"field":"b3"}}},
      {"mark":{"type":"line","color":"#3f6cad","strokeWidth":1.3},"encoding":{"y":{"field":"md","type":"quantitative","scale":{"domain":[3.568,4.832],"nice":false,"zero":false}}}}
     ]},
    {"data":{"name":"gm"},"mark":{"type":"line","color":"#cc3fae","strokeWidth":1.6},"encoding":{"x":{"field":"t","type":"quantitative","scale":{"domain":[0,119],"nice":false,"zero":false}},"y":{"field":"v","type":"quantitative","scale":{"domain":[3.568,4.832],"nice":false,"zero":false}}}},
    {"data":{"values":[{}]},"mark":{"type":"rule","color":"#333333","strokeWidth":1.3,"strokeDash":[7,4]},"encoding":{"y":{"datum":4.308,"type":"quantitative","scale":{"domain":[3.568,4.832],"nice":false,"zero":false}}}},
    {"data":{"values":[{}]},"mark":{"type":"rule","color":"#333333","strokeWidth":1.3,"strokeDash":[3,2]},"encoding":{"y":{"datum":3.71,"type":"quantitative","scale":{"domain":[3.568,4.832],"nice":false,"zero":false}}}}
  ]},
  {"data":{"name":"gk"},"mark":{"type":"line","color":"#2b2b2b","strokeWidth":1.6},"encoding":{"x":{"field":"t","type":"quantitative","scale":{"domain":[0,119],"nice":false,"zero":false}},"y":{"field":"v","type":"quantitative","scale":{"domain":[-3.7,52.6],"nice":false,"zero":false},"axis":{"orient":"right","values":[0,10,20,30,40,50],"tickCount":20,"title":["EFAS upperzone","groundwater storage (mm)"],"titlePadding":14,"labelPadding":6,"tickSize":4}}}}
 ]}
]
}
